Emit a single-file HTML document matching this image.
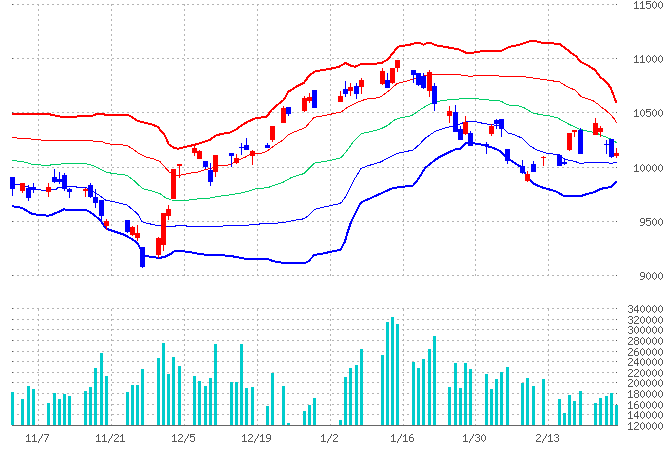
<!DOCTYPE html>
<html><head><meta charset="utf-8"><style>
html,body{margin:0;padding:0;background:#fff;width:670px;height:450px;overflow:hidden;font-family:"Liberation Sans",sans-serif}
svg{display:block;position:absolute;left:0;top:0}
</style></head><body>
<svg width="670" height="450" viewBox="0 0 670 450">
<rect x="0" y="0" width="670" height="450" fill="#ffffff"/>
<g shape-rendering="crispEdges">
<path d="M12 4h2v1h-2zM17 4h2v1h-2zM22 4h2v1h-2zM27 4h2v1h-2zM32 4h2v1h-2zM37 4h2v1h-2zM42 4h2v1h-2zM47 4h2v1h-2zM52 4h2v1h-2zM57 4h2v1h-2zM62 4h2v1h-2zM67 4h2v1h-2zM72 4h2v1h-2zM77 4h2v1h-2zM82 4h2v1h-2zM87 4h2v1h-2zM92 4h2v1h-2zM97 4h2v1h-2zM102 4h2v1h-2zM107 4h2v1h-2zM112 4h2v1h-2zM117 4h2v1h-2zM122 4h2v1h-2zM127 4h2v1h-2zM132 4h2v1h-2zM137 4h2v1h-2zM142 4h2v1h-2zM147 4h2v1h-2zM152 4h2v1h-2zM157 4h2v1h-2zM162 4h2v1h-2zM167 4h2v1h-2zM172 4h2v1h-2zM177 4h2v1h-2zM182 4h2v1h-2zM187 4h2v1h-2zM192 4h2v1h-2zM197 4h2v1h-2zM202 4h2v1h-2zM207 4h2v1h-2zM212 4h2v1h-2zM217 4h2v1h-2zM222 4h2v1h-2zM227 4h2v1h-2zM232 4h2v1h-2zM237 4h2v1h-2zM242 4h2v1h-2zM247 4h2v1h-2zM252 4h2v1h-2zM257 4h2v1h-2zM262 4h2v1h-2zM267 4h2v1h-2zM272 4h2v1h-2zM277 4h2v1h-2zM282 4h2v1h-2zM287 4h2v1h-2zM292 4h2v1h-2zM297 4h2v1h-2zM302 4h2v1h-2zM307 4h2v1h-2zM312 4h2v1h-2zM317 4h2v1h-2zM322 4h2v1h-2zM327 4h2v1h-2zM332 4h2v1h-2zM337 4h2v1h-2zM342 4h2v1h-2zM347 4h2v1h-2zM352 4h2v1h-2zM357 4h2v1h-2zM362 4h2v1h-2zM367 4h2v1h-2zM372 4h2v1h-2zM377 4h2v1h-2zM382 4h2v1h-2zM387 4h2v1h-2zM392 4h2v1h-2zM397 4h2v1h-2zM402 4h2v1h-2zM407 4h2v1h-2zM412 4h2v1h-2zM417 4h2v1h-2zM422 4h2v1h-2zM427 4h2v1h-2zM432 4h2v1h-2zM437 4h2v1h-2zM442 4h2v1h-2zM447 4h2v1h-2zM452 4h2v1h-2zM457 4h2v1h-2zM462 4h2v1h-2zM467 4h2v1h-2zM472 4h2v1h-2zM477 4h2v1h-2zM482 4h2v1h-2zM487 4h2v1h-2zM492 4h2v1h-2zM497 4h2v1h-2zM502 4h2v1h-2zM507 4h2v1h-2zM512 4h2v1h-2zM517 4h2v1h-2zM522 4h2v1h-2zM527 4h2v1h-2zM532 4h2v1h-2zM537 4h2v1h-2zM542 4h2v1h-2zM547 4h2v1h-2zM552 4h2v1h-2zM557 4h2v1h-2zM562 4h2v1h-2zM567 4h2v1h-2zM572 4h2v1h-2zM577 4h2v1h-2zM582 4h2v1h-2zM587 4h2v1h-2zM592 4h2v1h-2zM597 4h2v1h-2zM602 4h2v1h-2zM607 4h2v1h-2zM612 4h2v1h-2zM12 58h2v1h-2zM17 58h2v1h-2zM22 58h2v1h-2zM27 58h2v1h-2zM32 58h2v1h-2zM37 58h2v1h-2zM42 58h2v1h-2zM47 58h2v1h-2zM52 58h2v1h-2zM57 58h2v1h-2zM62 58h2v1h-2zM67 58h2v1h-2zM72 58h2v1h-2zM77 58h2v1h-2zM82 58h2v1h-2zM87 58h2v1h-2zM92 58h2v1h-2zM97 58h2v1h-2zM102 58h2v1h-2zM107 58h2v1h-2zM112 58h2v1h-2zM117 58h2v1h-2zM122 58h2v1h-2zM127 58h2v1h-2zM132 58h2v1h-2zM137 58h2v1h-2zM142 58h2v1h-2zM147 58h2v1h-2zM152 58h2v1h-2zM157 58h2v1h-2zM162 58h2v1h-2zM167 58h2v1h-2zM172 58h2v1h-2zM177 58h2v1h-2zM182 58h2v1h-2zM187 58h2v1h-2zM192 58h2v1h-2zM197 58h2v1h-2zM202 58h2v1h-2zM207 58h2v1h-2zM212 58h2v1h-2zM217 58h2v1h-2zM222 58h2v1h-2zM227 58h2v1h-2zM232 58h2v1h-2zM237 58h2v1h-2zM242 58h2v1h-2zM247 58h2v1h-2zM252 58h2v1h-2zM257 58h2v1h-2zM262 58h2v1h-2zM267 58h2v1h-2zM272 58h2v1h-2zM277 58h2v1h-2zM282 58h2v1h-2zM287 58h2v1h-2zM292 58h2v1h-2zM297 58h2v1h-2zM302 58h2v1h-2zM307 58h2v1h-2zM312 58h2v1h-2zM317 58h2v1h-2zM322 58h2v1h-2zM327 58h2v1h-2zM332 58h2v1h-2zM337 58h2v1h-2zM342 58h2v1h-2zM347 58h2v1h-2zM352 58h2v1h-2zM357 58h2v1h-2zM362 58h2v1h-2zM367 58h2v1h-2zM372 58h2v1h-2zM377 58h2v1h-2zM382 58h2v1h-2zM387 58h2v1h-2zM392 58h2v1h-2zM397 58h2v1h-2zM402 58h2v1h-2zM407 58h2v1h-2zM412 58h2v1h-2zM417 58h2v1h-2zM422 58h2v1h-2zM427 58h2v1h-2zM432 58h2v1h-2zM437 58h2v1h-2zM442 58h2v1h-2zM447 58h2v1h-2zM452 58h2v1h-2zM457 58h2v1h-2zM462 58h2v1h-2zM467 58h2v1h-2zM472 58h2v1h-2zM477 58h2v1h-2zM482 58h2v1h-2zM487 58h2v1h-2zM492 58h2v1h-2zM497 58h2v1h-2zM502 58h2v1h-2zM507 58h2v1h-2zM512 58h2v1h-2zM517 58h2v1h-2zM522 58h2v1h-2zM527 58h2v1h-2zM532 58h2v1h-2zM537 58h2v1h-2zM542 58h2v1h-2zM547 58h2v1h-2zM552 58h2v1h-2zM557 58h2v1h-2zM562 58h2v1h-2zM567 58h2v1h-2zM572 58h2v1h-2zM577 58h2v1h-2zM582 58h2v1h-2zM587 58h2v1h-2zM592 58h2v1h-2zM597 58h2v1h-2zM602 58h2v1h-2zM607 58h2v1h-2zM612 58h2v1h-2zM12 112h2v1h-2zM17 112h2v1h-2zM22 112h2v1h-2zM27 112h2v1h-2zM32 112h2v1h-2zM37 112h2v1h-2zM42 112h2v1h-2zM47 112h2v1h-2zM52 112h2v1h-2zM57 112h2v1h-2zM62 112h2v1h-2zM67 112h2v1h-2zM72 112h2v1h-2zM77 112h2v1h-2zM82 112h2v1h-2zM87 112h2v1h-2zM92 112h2v1h-2zM97 112h2v1h-2zM102 112h2v1h-2zM107 112h2v1h-2zM112 112h2v1h-2zM117 112h2v1h-2zM122 112h2v1h-2zM127 112h2v1h-2zM132 112h2v1h-2zM137 112h2v1h-2zM142 112h2v1h-2zM147 112h2v1h-2zM152 112h2v1h-2zM157 112h2v1h-2zM162 112h2v1h-2zM167 112h2v1h-2zM172 112h2v1h-2zM177 112h2v1h-2zM182 112h2v1h-2zM187 112h2v1h-2zM192 112h2v1h-2zM197 112h2v1h-2zM202 112h2v1h-2zM207 112h2v1h-2zM212 112h2v1h-2zM217 112h2v1h-2zM222 112h2v1h-2zM227 112h2v1h-2zM232 112h2v1h-2zM237 112h2v1h-2zM242 112h2v1h-2zM247 112h2v1h-2zM252 112h2v1h-2zM257 112h2v1h-2zM262 112h2v1h-2zM267 112h2v1h-2zM272 112h2v1h-2zM277 112h2v1h-2zM282 112h2v1h-2zM287 112h2v1h-2zM292 112h2v1h-2zM297 112h2v1h-2zM302 112h2v1h-2zM307 112h2v1h-2zM312 112h2v1h-2zM317 112h2v1h-2zM322 112h2v1h-2zM327 112h2v1h-2zM332 112h2v1h-2zM337 112h2v1h-2zM342 112h2v1h-2zM347 112h2v1h-2zM352 112h2v1h-2zM357 112h2v1h-2zM362 112h2v1h-2zM367 112h2v1h-2zM372 112h2v1h-2zM377 112h2v1h-2zM382 112h2v1h-2zM387 112h2v1h-2zM392 112h2v1h-2zM397 112h2v1h-2zM402 112h2v1h-2zM407 112h2v1h-2zM412 112h2v1h-2zM417 112h2v1h-2zM422 112h2v1h-2zM427 112h2v1h-2zM432 112h2v1h-2zM437 112h2v1h-2zM442 112h2v1h-2zM447 112h2v1h-2zM452 112h2v1h-2zM457 112h2v1h-2zM462 112h2v1h-2zM467 112h2v1h-2zM472 112h2v1h-2zM477 112h2v1h-2zM482 112h2v1h-2zM487 112h2v1h-2zM492 112h2v1h-2zM497 112h2v1h-2zM502 112h2v1h-2zM507 112h2v1h-2zM512 112h2v1h-2zM517 112h2v1h-2zM522 112h2v1h-2zM527 112h2v1h-2zM532 112h2v1h-2zM537 112h2v1h-2zM542 112h2v1h-2zM547 112h2v1h-2zM552 112h2v1h-2zM557 112h2v1h-2zM562 112h2v1h-2zM567 112h2v1h-2zM572 112h2v1h-2zM577 112h2v1h-2zM582 112h2v1h-2zM587 112h2v1h-2zM592 112h2v1h-2zM597 112h2v1h-2zM602 112h2v1h-2zM607 112h2v1h-2zM612 112h2v1h-2zM12 167h2v1h-2zM17 167h2v1h-2zM22 167h2v1h-2zM27 167h2v1h-2zM32 167h2v1h-2zM37 167h2v1h-2zM42 167h2v1h-2zM47 167h2v1h-2zM52 167h2v1h-2zM57 167h2v1h-2zM62 167h2v1h-2zM67 167h2v1h-2zM72 167h2v1h-2zM77 167h2v1h-2zM82 167h2v1h-2zM87 167h2v1h-2zM92 167h2v1h-2zM97 167h2v1h-2zM102 167h2v1h-2zM107 167h2v1h-2zM112 167h2v1h-2zM117 167h2v1h-2zM122 167h2v1h-2zM127 167h2v1h-2zM132 167h2v1h-2zM137 167h2v1h-2zM142 167h2v1h-2zM147 167h2v1h-2zM152 167h2v1h-2zM157 167h2v1h-2zM162 167h2v1h-2zM167 167h2v1h-2zM172 167h2v1h-2zM177 167h2v1h-2zM182 167h2v1h-2zM187 167h2v1h-2zM192 167h2v1h-2zM197 167h2v1h-2zM202 167h2v1h-2zM207 167h2v1h-2zM212 167h2v1h-2zM217 167h2v1h-2zM222 167h2v1h-2zM227 167h2v1h-2zM232 167h2v1h-2zM237 167h2v1h-2zM242 167h2v1h-2zM247 167h2v1h-2zM252 167h2v1h-2zM257 167h2v1h-2zM262 167h2v1h-2zM267 167h2v1h-2zM272 167h2v1h-2zM277 167h2v1h-2zM282 167h2v1h-2zM287 167h2v1h-2zM292 167h2v1h-2zM297 167h2v1h-2zM302 167h2v1h-2zM307 167h2v1h-2zM312 167h2v1h-2zM317 167h2v1h-2zM322 167h2v1h-2zM327 167h2v1h-2zM332 167h2v1h-2zM337 167h2v1h-2zM342 167h2v1h-2zM347 167h2v1h-2zM352 167h2v1h-2zM357 167h2v1h-2zM362 167h2v1h-2zM367 167h2v1h-2zM372 167h2v1h-2zM377 167h2v1h-2zM382 167h2v1h-2zM387 167h2v1h-2zM392 167h2v1h-2zM397 167h2v1h-2zM402 167h2v1h-2zM407 167h2v1h-2zM412 167h2v1h-2zM417 167h2v1h-2zM422 167h2v1h-2zM427 167h2v1h-2zM432 167h2v1h-2zM437 167h2v1h-2zM442 167h2v1h-2zM447 167h2v1h-2zM452 167h2v1h-2zM457 167h2v1h-2zM462 167h2v1h-2zM467 167h2v1h-2zM472 167h2v1h-2zM477 167h2v1h-2zM482 167h2v1h-2zM487 167h2v1h-2zM492 167h2v1h-2zM497 167h2v1h-2zM502 167h2v1h-2zM507 167h2v1h-2zM512 167h2v1h-2zM517 167h2v1h-2zM522 167h2v1h-2zM527 167h2v1h-2zM532 167h2v1h-2zM537 167h2v1h-2zM542 167h2v1h-2zM547 167h2v1h-2zM552 167h2v1h-2zM557 167h2v1h-2zM562 167h2v1h-2zM567 167h2v1h-2zM572 167h2v1h-2zM577 167h2v1h-2zM582 167h2v1h-2zM587 167h2v1h-2zM592 167h2v1h-2zM597 167h2v1h-2zM602 167h2v1h-2zM607 167h2v1h-2zM612 167h2v1h-2zM12 221h2v1h-2zM17 221h2v1h-2zM22 221h2v1h-2zM27 221h2v1h-2zM32 221h2v1h-2zM37 221h2v1h-2zM42 221h2v1h-2zM47 221h2v1h-2zM52 221h2v1h-2zM57 221h2v1h-2zM62 221h2v1h-2zM67 221h2v1h-2zM72 221h2v1h-2zM77 221h2v1h-2zM82 221h2v1h-2zM87 221h2v1h-2zM92 221h2v1h-2zM97 221h2v1h-2zM102 221h2v1h-2zM107 221h2v1h-2zM112 221h2v1h-2zM117 221h2v1h-2zM122 221h2v1h-2zM127 221h2v1h-2zM132 221h2v1h-2zM137 221h2v1h-2zM142 221h2v1h-2zM147 221h2v1h-2zM152 221h2v1h-2zM157 221h2v1h-2zM162 221h2v1h-2zM167 221h2v1h-2zM172 221h2v1h-2zM177 221h2v1h-2zM182 221h2v1h-2zM187 221h2v1h-2zM192 221h2v1h-2zM197 221h2v1h-2zM202 221h2v1h-2zM207 221h2v1h-2zM212 221h2v1h-2zM217 221h2v1h-2zM222 221h2v1h-2zM227 221h2v1h-2zM232 221h2v1h-2zM237 221h2v1h-2zM242 221h2v1h-2zM247 221h2v1h-2zM252 221h2v1h-2zM257 221h2v1h-2zM262 221h2v1h-2zM267 221h2v1h-2zM272 221h2v1h-2zM277 221h2v1h-2zM282 221h2v1h-2zM287 221h2v1h-2zM292 221h2v1h-2zM297 221h2v1h-2zM302 221h2v1h-2zM307 221h2v1h-2zM312 221h2v1h-2zM317 221h2v1h-2zM322 221h2v1h-2zM327 221h2v1h-2zM332 221h2v1h-2zM337 221h2v1h-2zM342 221h2v1h-2zM347 221h2v1h-2zM352 221h2v1h-2zM357 221h2v1h-2zM362 221h2v1h-2zM367 221h2v1h-2zM372 221h2v1h-2zM377 221h2v1h-2zM382 221h2v1h-2zM387 221h2v1h-2zM392 221h2v1h-2zM397 221h2v1h-2zM402 221h2v1h-2zM407 221h2v1h-2zM412 221h2v1h-2zM417 221h2v1h-2zM422 221h2v1h-2zM427 221h2v1h-2zM432 221h2v1h-2zM437 221h2v1h-2zM442 221h2v1h-2zM447 221h2v1h-2zM452 221h2v1h-2zM457 221h2v1h-2zM462 221h2v1h-2zM467 221h2v1h-2zM472 221h2v1h-2zM477 221h2v1h-2zM482 221h2v1h-2zM487 221h2v1h-2zM492 221h2v1h-2zM497 221h2v1h-2zM502 221h2v1h-2zM507 221h2v1h-2zM512 221h2v1h-2zM517 221h2v1h-2zM522 221h2v1h-2zM527 221h2v1h-2zM532 221h2v1h-2zM537 221h2v1h-2zM542 221h2v1h-2zM547 221h2v1h-2zM552 221h2v1h-2zM557 221h2v1h-2zM562 221h2v1h-2zM567 221h2v1h-2zM572 221h2v1h-2zM577 221h2v1h-2zM582 221h2v1h-2zM587 221h2v1h-2zM592 221h2v1h-2zM597 221h2v1h-2zM602 221h2v1h-2zM607 221h2v1h-2zM612 221h2v1h-2zM12 275h2v1h-2zM17 275h2v1h-2zM22 275h2v1h-2zM27 275h2v1h-2zM32 275h2v1h-2zM37 275h2v1h-2zM42 275h2v1h-2zM47 275h2v1h-2zM52 275h2v1h-2zM57 275h2v1h-2zM62 275h2v1h-2zM67 275h2v1h-2zM72 275h2v1h-2zM77 275h2v1h-2zM82 275h2v1h-2zM87 275h2v1h-2zM92 275h2v1h-2zM97 275h2v1h-2zM102 275h2v1h-2zM107 275h2v1h-2zM112 275h2v1h-2zM117 275h2v1h-2zM122 275h2v1h-2zM127 275h2v1h-2zM132 275h2v1h-2zM137 275h2v1h-2zM142 275h2v1h-2zM147 275h2v1h-2zM152 275h2v1h-2zM157 275h2v1h-2zM162 275h2v1h-2zM167 275h2v1h-2zM172 275h2v1h-2zM177 275h2v1h-2zM182 275h2v1h-2zM187 275h2v1h-2zM192 275h2v1h-2zM197 275h2v1h-2zM202 275h2v1h-2zM207 275h2v1h-2zM212 275h2v1h-2zM217 275h2v1h-2zM222 275h2v1h-2zM227 275h2v1h-2zM232 275h2v1h-2zM237 275h2v1h-2zM242 275h2v1h-2zM247 275h2v1h-2zM252 275h2v1h-2zM257 275h2v1h-2zM262 275h2v1h-2zM267 275h2v1h-2zM272 275h2v1h-2zM277 275h2v1h-2zM282 275h2v1h-2zM287 275h2v1h-2zM292 275h2v1h-2zM297 275h2v1h-2zM302 275h2v1h-2zM307 275h2v1h-2zM312 275h2v1h-2zM317 275h2v1h-2zM322 275h2v1h-2zM327 275h2v1h-2zM332 275h2v1h-2zM337 275h2v1h-2zM342 275h2v1h-2zM347 275h2v1h-2zM352 275h2v1h-2zM357 275h2v1h-2zM362 275h2v1h-2zM367 275h2v1h-2zM372 275h2v1h-2zM377 275h2v1h-2zM382 275h2v1h-2zM387 275h2v1h-2zM392 275h2v1h-2zM397 275h2v1h-2zM402 275h2v1h-2zM407 275h2v1h-2zM412 275h2v1h-2zM417 275h2v1h-2zM422 275h2v1h-2zM427 275h2v1h-2zM432 275h2v1h-2zM437 275h2v1h-2zM442 275h2v1h-2zM447 275h2v1h-2zM452 275h2v1h-2zM457 275h2v1h-2zM462 275h2v1h-2zM467 275h2v1h-2zM472 275h2v1h-2zM477 275h2v1h-2zM482 275h2v1h-2zM487 275h2v1h-2zM492 275h2v1h-2zM497 275h2v1h-2zM502 275h2v1h-2zM507 275h2v1h-2zM512 275h2v1h-2zM517 275h2v1h-2zM522 275h2v1h-2zM527 275h2v1h-2zM532 275h2v1h-2zM537 275h2v1h-2zM542 275h2v1h-2zM547 275h2v1h-2zM552 275h2v1h-2zM557 275h2v1h-2zM562 275h2v1h-2zM567 275h2v1h-2zM572 275h2v1h-2zM577 275h2v1h-2zM582 275h2v1h-2zM587 275h2v1h-2zM592 275h2v1h-2zM597 275h2v1h-2zM602 275h2v1h-2zM607 275h2v1h-2zM612 275h2v1h-2zM12 308h2v1h-2zM17 308h2v1h-2zM22 308h2v1h-2zM27 308h2v1h-2zM32 308h2v1h-2zM37 308h2v1h-2zM42 308h2v1h-2zM47 308h2v1h-2zM52 308h2v1h-2zM57 308h2v1h-2zM62 308h2v1h-2zM67 308h2v1h-2zM72 308h2v1h-2zM77 308h2v1h-2zM82 308h2v1h-2zM87 308h2v1h-2zM92 308h2v1h-2zM97 308h2v1h-2zM102 308h2v1h-2zM107 308h2v1h-2zM112 308h2v1h-2zM117 308h2v1h-2zM122 308h2v1h-2zM127 308h2v1h-2zM132 308h2v1h-2zM137 308h2v1h-2zM142 308h2v1h-2zM147 308h2v1h-2zM152 308h2v1h-2zM157 308h2v1h-2zM162 308h2v1h-2zM167 308h2v1h-2zM172 308h2v1h-2zM177 308h2v1h-2zM182 308h2v1h-2zM187 308h2v1h-2zM192 308h2v1h-2zM197 308h2v1h-2zM202 308h2v1h-2zM207 308h2v1h-2zM212 308h2v1h-2zM217 308h2v1h-2zM222 308h2v1h-2zM227 308h2v1h-2zM232 308h2v1h-2zM237 308h2v1h-2zM242 308h2v1h-2zM247 308h2v1h-2zM252 308h2v1h-2zM257 308h2v1h-2zM262 308h2v1h-2zM267 308h2v1h-2zM272 308h2v1h-2zM277 308h2v1h-2zM282 308h2v1h-2zM287 308h2v1h-2zM292 308h2v1h-2zM297 308h2v1h-2zM302 308h2v1h-2zM307 308h2v1h-2zM312 308h2v1h-2zM317 308h2v1h-2zM322 308h2v1h-2zM327 308h2v1h-2zM332 308h2v1h-2zM337 308h2v1h-2zM342 308h2v1h-2zM347 308h2v1h-2zM352 308h2v1h-2zM357 308h2v1h-2zM362 308h2v1h-2zM367 308h2v1h-2zM372 308h2v1h-2zM377 308h2v1h-2zM382 308h2v1h-2zM387 308h2v1h-2zM392 308h2v1h-2zM397 308h2v1h-2zM402 308h2v1h-2zM407 308h2v1h-2zM412 308h2v1h-2zM417 308h2v1h-2zM422 308h2v1h-2zM427 308h2v1h-2zM432 308h2v1h-2zM437 308h2v1h-2zM442 308h2v1h-2zM447 308h2v1h-2zM452 308h2v1h-2zM457 308h2v1h-2zM462 308h2v1h-2zM467 308h2v1h-2zM472 308h2v1h-2zM477 308h2v1h-2zM482 308h2v1h-2zM487 308h2v1h-2zM492 308h2v1h-2zM497 308h2v1h-2zM502 308h2v1h-2zM507 308h2v1h-2zM512 308h2v1h-2zM517 308h2v1h-2zM522 308h2v1h-2zM527 308h2v1h-2zM532 308h2v1h-2zM537 308h2v1h-2zM542 308h2v1h-2zM547 308h2v1h-2zM552 308h2v1h-2zM557 308h2v1h-2zM562 308h2v1h-2zM567 308h2v1h-2zM572 308h2v1h-2zM577 308h2v1h-2zM582 308h2v1h-2zM587 308h2v1h-2zM592 308h2v1h-2zM597 308h2v1h-2zM602 308h2v1h-2zM607 308h2v1h-2zM612 308h2v1h-2zM12 319h2v1h-2zM17 319h2v1h-2zM22 319h2v1h-2zM27 319h2v1h-2zM32 319h2v1h-2zM37 319h2v1h-2zM42 319h2v1h-2zM47 319h2v1h-2zM52 319h2v1h-2zM57 319h2v1h-2zM62 319h2v1h-2zM67 319h2v1h-2zM72 319h2v1h-2zM77 319h2v1h-2zM82 319h2v1h-2zM87 319h2v1h-2zM92 319h2v1h-2zM97 319h2v1h-2zM102 319h2v1h-2zM107 319h2v1h-2zM112 319h2v1h-2zM117 319h2v1h-2zM122 319h2v1h-2zM127 319h2v1h-2zM132 319h2v1h-2zM137 319h2v1h-2zM142 319h2v1h-2zM147 319h2v1h-2zM152 319h2v1h-2zM157 319h2v1h-2zM162 319h2v1h-2zM167 319h2v1h-2zM172 319h2v1h-2zM177 319h2v1h-2zM182 319h2v1h-2zM187 319h2v1h-2zM192 319h2v1h-2zM197 319h2v1h-2zM202 319h2v1h-2zM207 319h2v1h-2zM212 319h2v1h-2zM217 319h2v1h-2zM222 319h2v1h-2zM227 319h2v1h-2zM232 319h2v1h-2zM237 319h2v1h-2zM242 319h2v1h-2zM247 319h2v1h-2zM252 319h2v1h-2zM257 319h2v1h-2zM262 319h2v1h-2zM267 319h2v1h-2zM272 319h2v1h-2zM277 319h2v1h-2zM282 319h2v1h-2zM287 319h2v1h-2zM292 319h2v1h-2zM297 319h2v1h-2zM302 319h2v1h-2zM307 319h2v1h-2zM312 319h2v1h-2zM317 319h2v1h-2zM322 319h2v1h-2zM327 319h2v1h-2zM332 319h2v1h-2zM337 319h2v1h-2zM342 319h2v1h-2zM347 319h2v1h-2zM352 319h2v1h-2zM357 319h2v1h-2zM362 319h2v1h-2zM367 319h2v1h-2zM372 319h2v1h-2zM377 319h2v1h-2zM382 319h2v1h-2zM387 319h2v1h-2zM392 319h2v1h-2zM397 319h2v1h-2zM402 319h2v1h-2zM407 319h2v1h-2zM412 319h2v1h-2zM417 319h2v1h-2zM422 319h2v1h-2zM427 319h2v1h-2zM432 319h2v1h-2zM437 319h2v1h-2zM442 319h2v1h-2zM447 319h2v1h-2zM452 319h2v1h-2zM457 319h2v1h-2zM462 319h2v1h-2zM467 319h2v1h-2zM472 319h2v1h-2zM477 319h2v1h-2zM482 319h2v1h-2zM487 319h2v1h-2zM492 319h2v1h-2zM497 319h2v1h-2zM502 319h2v1h-2zM507 319h2v1h-2zM512 319h2v1h-2zM517 319h2v1h-2zM522 319h2v1h-2zM527 319h2v1h-2zM532 319h2v1h-2zM537 319h2v1h-2zM542 319h2v1h-2zM547 319h2v1h-2zM552 319h2v1h-2zM557 319h2v1h-2zM562 319h2v1h-2zM567 319h2v1h-2zM572 319h2v1h-2zM577 319h2v1h-2zM582 319h2v1h-2zM587 319h2v1h-2zM592 319h2v1h-2zM597 319h2v1h-2zM602 319h2v1h-2zM607 319h2v1h-2zM612 319h2v1h-2zM12 329h2v1h-2zM17 329h2v1h-2zM22 329h2v1h-2zM27 329h2v1h-2zM32 329h2v1h-2zM37 329h2v1h-2zM42 329h2v1h-2zM47 329h2v1h-2zM52 329h2v1h-2zM57 329h2v1h-2zM62 329h2v1h-2zM67 329h2v1h-2zM72 329h2v1h-2zM77 329h2v1h-2zM82 329h2v1h-2zM87 329h2v1h-2zM92 329h2v1h-2zM97 329h2v1h-2zM102 329h2v1h-2zM107 329h2v1h-2zM112 329h2v1h-2zM117 329h2v1h-2zM122 329h2v1h-2zM127 329h2v1h-2zM132 329h2v1h-2zM137 329h2v1h-2zM142 329h2v1h-2zM147 329h2v1h-2zM152 329h2v1h-2zM157 329h2v1h-2zM162 329h2v1h-2zM167 329h2v1h-2zM172 329h2v1h-2zM177 329h2v1h-2zM182 329h2v1h-2zM187 329h2v1h-2zM192 329h2v1h-2zM197 329h2v1h-2zM202 329h2v1h-2zM207 329h2v1h-2zM212 329h2v1h-2zM217 329h2v1h-2zM222 329h2v1h-2zM227 329h2v1h-2zM232 329h2v1h-2zM237 329h2v1h-2zM242 329h2v1h-2zM247 329h2v1h-2zM252 329h2v1h-2zM257 329h2v1h-2zM262 329h2v1h-2zM267 329h2v1h-2zM272 329h2v1h-2zM277 329h2v1h-2zM282 329h2v1h-2zM287 329h2v1h-2zM292 329h2v1h-2zM297 329h2v1h-2zM302 329h2v1h-2zM307 329h2v1h-2zM312 329h2v1h-2zM317 329h2v1h-2zM322 329h2v1h-2zM327 329h2v1h-2zM332 329h2v1h-2zM337 329h2v1h-2zM342 329h2v1h-2zM347 329h2v1h-2zM352 329h2v1h-2zM357 329h2v1h-2zM362 329h2v1h-2zM367 329h2v1h-2zM372 329h2v1h-2zM377 329h2v1h-2zM382 329h2v1h-2zM387 329h2v1h-2zM392 329h2v1h-2zM397 329h2v1h-2zM402 329h2v1h-2zM407 329h2v1h-2zM412 329h2v1h-2zM417 329h2v1h-2zM422 329h2v1h-2zM427 329h2v1h-2zM432 329h2v1h-2zM437 329h2v1h-2zM442 329h2v1h-2zM447 329h2v1h-2zM452 329h2v1h-2zM457 329h2v1h-2zM462 329h2v1h-2zM467 329h2v1h-2zM472 329h2v1h-2zM477 329h2v1h-2zM482 329h2v1h-2zM487 329h2v1h-2zM492 329h2v1h-2zM497 329h2v1h-2zM502 329h2v1h-2zM507 329h2v1h-2zM512 329h2v1h-2zM517 329h2v1h-2zM522 329h2v1h-2zM527 329h2v1h-2zM532 329h2v1h-2zM537 329h2v1h-2zM542 329h2v1h-2zM547 329h2v1h-2zM552 329h2v1h-2zM557 329h2v1h-2zM562 329h2v1h-2zM567 329h2v1h-2zM572 329h2v1h-2zM577 329h2v1h-2zM582 329h2v1h-2zM587 329h2v1h-2zM592 329h2v1h-2zM597 329h2v1h-2zM602 329h2v1h-2zM607 329h2v1h-2zM612 329h2v1h-2zM12 340h2v1h-2zM17 340h2v1h-2zM22 340h2v1h-2zM27 340h2v1h-2zM32 340h2v1h-2zM37 340h2v1h-2zM42 340h2v1h-2zM47 340h2v1h-2zM52 340h2v1h-2zM57 340h2v1h-2zM62 340h2v1h-2zM67 340h2v1h-2zM72 340h2v1h-2zM77 340h2v1h-2zM82 340h2v1h-2zM87 340h2v1h-2zM92 340h2v1h-2zM97 340h2v1h-2zM102 340h2v1h-2zM107 340h2v1h-2zM112 340h2v1h-2zM117 340h2v1h-2zM122 340h2v1h-2zM127 340h2v1h-2zM132 340h2v1h-2zM137 340h2v1h-2zM142 340h2v1h-2zM147 340h2v1h-2zM152 340h2v1h-2zM157 340h2v1h-2zM162 340h2v1h-2zM167 340h2v1h-2zM172 340h2v1h-2zM177 340h2v1h-2zM182 340h2v1h-2zM187 340h2v1h-2zM192 340h2v1h-2zM197 340h2v1h-2zM202 340h2v1h-2zM207 340h2v1h-2zM212 340h2v1h-2zM217 340h2v1h-2zM222 340h2v1h-2zM227 340h2v1h-2zM232 340h2v1h-2zM237 340h2v1h-2zM242 340h2v1h-2zM247 340h2v1h-2zM252 340h2v1h-2zM257 340h2v1h-2zM262 340h2v1h-2zM267 340h2v1h-2zM272 340h2v1h-2zM277 340h2v1h-2zM282 340h2v1h-2zM287 340h2v1h-2zM292 340h2v1h-2zM297 340h2v1h-2zM302 340h2v1h-2zM307 340h2v1h-2zM312 340h2v1h-2zM317 340h2v1h-2zM322 340h2v1h-2zM327 340h2v1h-2zM332 340h2v1h-2zM337 340h2v1h-2zM342 340h2v1h-2zM347 340h2v1h-2zM352 340h2v1h-2zM357 340h2v1h-2zM362 340h2v1h-2zM367 340h2v1h-2zM372 340h2v1h-2zM377 340h2v1h-2zM382 340h2v1h-2zM387 340h2v1h-2zM392 340h2v1h-2zM397 340h2v1h-2zM402 340h2v1h-2zM407 340h2v1h-2zM412 340h2v1h-2zM417 340h2v1h-2zM422 340h2v1h-2zM427 340h2v1h-2zM432 340h2v1h-2zM437 340h2v1h-2zM442 340h2v1h-2zM447 340h2v1h-2zM452 340h2v1h-2zM457 340h2v1h-2zM462 340h2v1h-2zM467 340h2v1h-2zM472 340h2v1h-2zM477 340h2v1h-2zM482 340h2v1h-2zM487 340h2v1h-2zM492 340h2v1h-2zM497 340h2v1h-2zM502 340h2v1h-2zM507 340h2v1h-2zM512 340h2v1h-2zM517 340h2v1h-2zM522 340h2v1h-2zM527 340h2v1h-2zM532 340h2v1h-2zM537 340h2v1h-2zM542 340h2v1h-2zM547 340h2v1h-2zM552 340h2v1h-2zM557 340h2v1h-2zM562 340h2v1h-2zM567 340h2v1h-2zM572 340h2v1h-2zM577 340h2v1h-2zM582 340h2v1h-2zM587 340h2v1h-2zM592 340h2v1h-2zM597 340h2v1h-2zM602 340h2v1h-2zM607 340h2v1h-2zM612 340h2v1h-2zM12 351h2v1h-2zM17 351h2v1h-2zM22 351h2v1h-2zM27 351h2v1h-2zM32 351h2v1h-2zM37 351h2v1h-2zM42 351h2v1h-2zM47 351h2v1h-2zM52 351h2v1h-2zM57 351h2v1h-2zM62 351h2v1h-2zM67 351h2v1h-2zM72 351h2v1h-2zM77 351h2v1h-2zM82 351h2v1h-2zM87 351h2v1h-2zM92 351h2v1h-2zM97 351h2v1h-2zM102 351h2v1h-2zM107 351h2v1h-2zM112 351h2v1h-2zM117 351h2v1h-2zM122 351h2v1h-2zM127 351h2v1h-2zM132 351h2v1h-2zM137 351h2v1h-2zM142 351h2v1h-2zM147 351h2v1h-2zM152 351h2v1h-2zM157 351h2v1h-2zM162 351h2v1h-2zM167 351h2v1h-2zM172 351h2v1h-2zM177 351h2v1h-2zM182 351h2v1h-2zM187 351h2v1h-2zM192 351h2v1h-2zM197 351h2v1h-2zM202 351h2v1h-2zM207 351h2v1h-2zM212 351h2v1h-2zM217 351h2v1h-2zM222 351h2v1h-2zM227 351h2v1h-2zM232 351h2v1h-2zM237 351h2v1h-2zM242 351h2v1h-2zM247 351h2v1h-2zM252 351h2v1h-2zM257 351h2v1h-2zM262 351h2v1h-2zM267 351h2v1h-2zM272 351h2v1h-2zM277 351h2v1h-2zM282 351h2v1h-2zM287 351h2v1h-2zM292 351h2v1h-2zM297 351h2v1h-2zM302 351h2v1h-2zM307 351h2v1h-2zM312 351h2v1h-2zM317 351h2v1h-2zM322 351h2v1h-2zM327 351h2v1h-2zM332 351h2v1h-2zM337 351h2v1h-2zM342 351h2v1h-2zM347 351h2v1h-2zM352 351h2v1h-2zM357 351h2v1h-2zM362 351h2v1h-2zM367 351h2v1h-2zM372 351h2v1h-2zM377 351h2v1h-2zM382 351h2v1h-2zM387 351h2v1h-2zM392 351h2v1h-2zM397 351h2v1h-2zM402 351h2v1h-2zM407 351h2v1h-2zM412 351h2v1h-2zM417 351h2v1h-2zM422 351h2v1h-2zM427 351h2v1h-2zM432 351h2v1h-2zM437 351h2v1h-2zM442 351h2v1h-2zM447 351h2v1h-2zM452 351h2v1h-2zM457 351h2v1h-2zM462 351h2v1h-2zM467 351h2v1h-2zM472 351h2v1h-2zM477 351h2v1h-2zM482 351h2v1h-2zM487 351h2v1h-2zM492 351h2v1h-2zM497 351h2v1h-2zM502 351h2v1h-2zM507 351h2v1h-2zM512 351h2v1h-2zM517 351h2v1h-2zM522 351h2v1h-2zM527 351h2v1h-2zM532 351h2v1h-2zM537 351h2v1h-2zM542 351h2v1h-2zM547 351h2v1h-2zM552 351h2v1h-2zM557 351h2v1h-2zM562 351h2v1h-2zM567 351h2v1h-2zM572 351h2v1h-2zM577 351h2v1h-2zM582 351h2v1h-2zM587 351h2v1h-2zM592 351h2v1h-2zM597 351h2v1h-2zM602 351h2v1h-2zM607 351h2v1h-2zM612 351h2v1h-2zM12 361h2v1h-2zM17 361h2v1h-2zM22 361h2v1h-2zM27 361h2v1h-2zM32 361h2v1h-2zM37 361h2v1h-2zM42 361h2v1h-2zM47 361h2v1h-2zM52 361h2v1h-2zM57 361h2v1h-2zM62 361h2v1h-2zM67 361h2v1h-2zM72 361h2v1h-2zM77 361h2v1h-2zM82 361h2v1h-2zM87 361h2v1h-2zM92 361h2v1h-2zM97 361h2v1h-2zM102 361h2v1h-2zM107 361h2v1h-2zM112 361h2v1h-2zM117 361h2v1h-2zM122 361h2v1h-2zM127 361h2v1h-2zM132 361h2v1h-2zM137 361h2v1h-2zM142 361h2v1h-2zM147 361h2v1h-2zM152 361h2v1h-2zM157 361h2v1h-2zM162 361h2v1h-2zM167 361h2v1h-2zM172 361h2v1h-2zM177 361h2v1h-2zM182 361h2v1h-2zM187 361h2v1h-2zM192 361h2v1h-2zM197 361h2v1h-2zM202 361h2v1h-2zM207 361h2v1h-2zM212 361h2v1h-2zM217 361h2v1h-2zM222 361h2v1h-2zM227 361h2v1h-2zM232 361h2v1h-2zM237 361h2v1h-2zM242 361h2v1h-2zM247 361h2v1h-2zM252 361h2v1h-2zM257 361h2v1h-2zM262 361h2v1h-2zM267 361h2v1h-2zM272 361h2v1h-2zM277 361h2v1h-2zM282 361h2v1h-2zM287 361h2v1h-2zM292 361h2v1h-2zM297 361h2v1h-2zM302 361h2v1h-2zM307 361h2v1h-2zM312 361h2v1h-2zM317 361h2v1h-2zM322 361h2v1h-2zM327 361h2v1h-2zM332 361h2v1h-2zM337 361h2v1h-2zM342 361h2v1h-2zM347 361h2v1h-2zM352 361h2v1h-2zM357 361h2v1h-2zM362 361h2v1h-2zM367 361h2v1h-2zM372 361h2v1h-2zM377 361h2v1h-2zM382 361h2v1h-2zM387 361h2v1h-2zM392 361h2v1h-2zM397 361h2v1h-2zM402 361h2v1h-2zM407 361h2v1h-2zM412 361h2v1h-2zM417 361h2v1h-2zM422 361h2v1h-2zM427 361h2v1h-2zM432 361h2v1h-2zM437 361h2v1h-2zM442 361h2v1h-2zM447 361h2v1h-2zM452 361h2v1h-2zM457 361h2v1h-2zM462 361h2v1h-2zM467 361h2v1h-2zM472 361h2v1h-2zM477 361h2v1h-2zM482 361h2v1h-2zM487 361h2v1h-2zM492 361h2v1h-2zM497 361h2v1h-2zM502 361h2v1h-2zM507 361h2v1h-2zM512 361h2v1h-2zM517 361h2v1h-2zM522 361h2v1h-2zM527 361h2v1h-2zM532 361h2v1h-2zM537 361h2v1h-2zM542 361h2v1h-2zM547 361h2v1h-2zM552 361h2v1h-2zM557 361h2v1h-2zM562 361h2v1h-2zM567 361h2v1h-2zM572 361h2v1h-2zM577 361h2v1h-2zM582 361h2v1h-2zM587 361h2v1h-2zM592 361h2v1h-2zM597 361h2v1h-2zM602 361h2v1h-2zM607 361h2v1h-2zM612 361h2v1h-2zM12 372h2v1h-2zM17 372h2v1h-2zM22 372h2v1h-2zM27 372h2v1h-2zM32 372h2v1h-2zM37 372h2v1h-2zM42 372h2v1h-2zM47 372h2v1h-2zM52 372h2v1h-2zM57 372h2v1h-2zM62 372h2v1h-2zM67 372h2v1h-2zM72 372h2v1h-2zM77 372h2v1h-2zM82 372h2v1h-2zM87 372h2v1h-2zM92 372h2v1h-2zM97 372h2v1h-2zM102 372h2v1h-2zM107 372h2v1h-2zM112 372h2v1h-2zM117 372h2v1h-2zM122 372h2v1h-2zM127 372h2v1h-2zM132 372h2v1h-2zM137 372h2v1h-2zM142 372h2v1h-2zM147 372h2v1h-2zM152 372h2v1h-2zM157 372h2v1h-2zM162 372h2v1h-2zM167 372h2v1h-2zM172 372h2v1h-2zM177 372h2v1h-2zM182 372h2v1h-2zM187 372h2v1h-2zM192 372h2v1h-2zM197 372h2v1h-2zM202 372h2v1h-2zM207 372h2v1h-2zM212 372h2v1h-2zM217 372h2v1h-2zM222 372h2v1h-2zM227 372h2v1h-2zM232 372h2v1h-2zM237 372h2v1h-2zM242 372h2v1h-2zM247 372h2v1h-2zM252 372h2v1h-2zM257 372h2v1h-2zM262 372h2v1h-2zM267 372h2v1h-2zM272 372h2v1h-2zM277 372h2v1h-2zM282 372h2v1h-2zM287 372h2v1h-2zM292 372h2v1h-2zM297 372h2v1h-2zM302 372h2v1h-2zM307 372h2v1h-2zM312 372h2v1h-2zM317 372h2v1h-2zM322 372h2v1h-2zM327 372h2v1h-2zM332 372h2v1h-2zM337 372h2v1h-2zM342 372h2v1h-2zM347 372h2v1h-2zM352 372h2v1h-2zM357 372h2v1h-2zM362 372h2v1h-2zM367 372h2v1h-2zM372 372h2v1h-2zM377 372h2v1h-2zM382 372h2v1h-2zM387 372h2v1h-2zM392 372h2v1h-2zM397 372h2v1h-2zM402 372h2v1h-2zM407 372h2v1h-2zM412 372h2v1h-2zM417 372h2v1h-2zM422 372h2v1h-2zM427 372h2v1h-2zM432 372h2v1h-2zM437 372h2v1h-2zM442 372h2v1h-2zM447 372h2v1h-2zM452 372h2v1h-2zM457 372h2v1h-2zM462 372h2v1h-2zM467 372h2v1h-2zM472 372h2v1h-2zM477 372h2v1h-2zM482 372h2v1h-2zM487 372h2v1h-2zM492 372h2v1h-2zM497 372h2v1h-2zM502 372h2v1h-2zM507 372h2v1h-2zM512 372h2v1h-2zM517 372h2v1h-2zM522 372h2v1h-2zM527 372h2v1h-2zM532 372h2v1h-2zM537 372h2v1h-2zM542 372h2v1h-2zM547 372h2v1h-2zM552 372h2v1h-2zM557 372h2v1h-2zM562 372h2v1h-2zM567 372h2v1h-2zM572 372h2v1h-2zM577 372h2v1h-2zM582 372h2v1h-2zM587 372h2v1h-2zM592 372h2v1h-2zM597 372h2v1h-2zM602 372h2v1h-2zM607 372h2v1h-2zM612 372h2v1h-2zM12 382h2v1h-2zM17 382h2v1h-2zM22 382h2v1h-2zM27 382h2v1h-2zM32 382h2v1h-2zM37 382h2v1h-2zM42 382h2v1h-2zM47 382h2v1h-2zM52 382h2v1h-2zM57 382h2v1h-2zM62 382h2v1h-2zM67 382h2v1h-2zM72 382h2v1h-2zM77 382h2v1h-2zM82 382h2v1h-2zM87 382h2v1h-2zM92 382h2v1h-2zM97 382h2v1h-2zM102 382h2v1h-2zM107 382h2v1h-2zM112 382h2v1h-2zM117 382h2v1h-2zM122 382h2v1h-2zM127 382h2v1h-2zM132 382h2v1h-2zM137 382h2v1h-2zM142 382h2v1h-2zM147 382h2v1h-2zM152 382h2v1h-2zM157 382h2v1h-2zM162 382h2v1h-2zM167 382h2v1h-2zM172 382h2v1h-2zM177 382h2v1h-2zM182 382h2v1h-2zM187 382h2v1h-2zM192 382h2v1h-2zM197 382h2v1h-2zM202 382h2v1h-2zM207 382h2v1h-2zM212 382h2v1h-2zM217 382h2v1h-2zM222 382h2v1h-2zM227 382h2v1h-2zM232 382h2v1h-2zM237 382h2v1h-2zM242 382h2v1h-2zM247 382h2v1h-2zM252 382h2v1h-2zM257 382h2v1h-2zM262 382h2v1h-2zM267 382h2v1h-2zM272 382h2v1h-2zM277 382h2v1h-2zM282 382h2v1h-2zM287 382h2v1h-2zM292 382h2v1h-2zM297 382h2v1h-2zM302 382h2v1h-2zM307 382h2v1h-2zM312 382h2v1h-2zM317 382h2v1h-2zM322 382h2v1h-2zM327 382h2v1h-2zM332 382h2v1h-2zM337 382h2v1h-2zM342 382h2v1h-2zM347 382h2v1h-2zM352 382h2v1h-2zM357 382h2v1h-2zM362 382h2v1h-2zM367 382h2v1h-2zM372 382h2v1h-2zM377 382h2v1h-2zM382 382h2v1h-2zM387 382h2v1h-2zM392 382h2v1h-2zM397 382h2v1h-2zM402 382h2v1h-2zM407 382h2v1h-2zM412 382h2v1h-2zM417 382h2v1h-2zM422 382h2v1h-2zM427 382h2v1h-2zM432 382h2v1h-2zM437 382h2v1h-2zM442 382h2v1h-2zM447 382h2v1h-2zM452 382h2v1h-2zM457 382h2v1h-2zM462 382h2v1h-2zM467 382h2v1h-2zM472 382h2v1h-2zM477 382h2v1h-2zM482 382h2v1h-2zM487 382h2v1h-2zM492 382h2v1h-2zM497 382h2v1h-2zM502 382h2v1h-2zM507 382h2v1h-2zM512 382h2v1h-2zM517 382h2v1h-2zM522 382h2v1h-2zM527 382h2v1h-2zM532 382h2v1h-2zM537 382h2v1h-2zM542 382h2v1h-2zM547 382h2v1h-2zM552 382h2v1h-2zM557 382h2v1h-2zM562 382h2v1h-2zM567 382h2v1h-2zM572 382h2v1h-2zM577 382h2v1h-2zM582 382h2v1h-2zM587 382h2v1h-2zM592 382h2v1h-2zM597 382h2v1h-2zM602 382h2v1h-2zM607 382h2v1h-2zM612 382h2v1h-2zM12 393h2v1h-2zM17 393h2v1h-2zM22 393h2v1h-2zM27 393h2v1h-2zM32 393h2v1h-2zM37 393h2v1h-2zM42 393h2v1h-2zM47 393h2v1h-2zM52 393h2v1h-2zM57 393h2v1h-2zM62 393h2v1h-2zM67 393h2v1h-2zM72 393h2v1h-2zM77 393h2v1h-2zM82 393h2v1h-2zM87 393h2v1h-2zM92 393h2v1h-2zM97 393h2v1h-2zM102 393h2v1h-2zM107 393h2v1h-2zM112 393h2v1h-2zM117 393h2v1h-2zM122 393h2v1h-2zM127 393h2v1h-2zM132 393h2v1h-2zM137 393h2v1h-2zM142 393h2v1h-2zM147 393h2v1h-2zM152 393h2v1h-2zM157 393h2v1h-2zM162 393h2v1h-2zM167 393h2v1h-2zM172 393h2v1h-2zM177 393h2v1h-2zM182 393h2v1h-2zM187 393h2v1h-2zM192 393h2v1h-2zM197 393h2v1h-2zM202 393h2v1h-2zM207 393h2v1h-2zM212 393h2v1h-2zM217 393h2v1h-2zM222 393h2v1h-2zM227 393h2v1h-2zM232 393h2v1h-2zM237 393h2v1h-2zM242 393h2v1h-2zM247 393h2v1h-2zM252 393h2v1h-2zM257 393h2v1h-2zM262 393h2v1h-2zM267 393h2v1h-2zM272 393h2v1h-2zM277 393h2v1h-2zM282 393h2v1h-2zM287 393h2v1h-2zM292 393h2v1h-2zM297 393h2v1h-2zM302 393h2v1h-2zM307 393h2v1h-2zM312 393h2v1h-2zM317 393h2v1h-2zM322 393h2v1h-2zM327 393h2v1h-2zM332 393h2v1h-2zM337 393h2v1h-2zM342 393h2v1h-2zM347 393h2v1h-2zM352 393h2v1h-2zM357 393h2v1h-2zM362 393h2v1h-2zM367 393h2v1h-2zM372 393h2v1h-2zM377 393h2v1h-2zM382 393h2v1h-2zM387 393h2v1h-2zM392 393h2v1h-2zM397 393h2v1h-2zM402 393h2v1h-2zM407 393h2v1h-2zM412 393h2v1h-2zM417 393h2v1h-2zM422 393h2v1h-2zM427 393h2v1h-2zM432 393h2v1h-2zM437 393h2v1h-2zM442 393h2v1h-2zM447 393h2v1h-2zM452 393h2v1h-2zM457 393h2v1h-2zM462 393h2v1h-2zM467 393h2v1h-2zM472 393h2v1h-2zM477 393h2v1h-2zM482 393h2v1h-2zM487 393h2v1h-2zM492 393h2v1h-2zM497 393h2v1h-2zM502 393h2v1h-2zM507 393h2v1h-2zM512 393h2v1h-2zM517 393h2v1h-2zM522 393h2v1h-2zM527 393h2v1h-2zM532 393h2v1h-2zM537 393h2v1h-2zM542 393h2v1h-2zM547 393h2v1h-2zM552 393h2v1h-2zM557 393h2v1h-2zM562 393h2v1h-2zM567 393h2v1h-2zM572 393h2v1h-2zM577 393h2v1h-2zM582 393h2v1h-2zM587 393h2v1h-2zM592 393h2v1h-2zM597 393h2v1h-2zM602 393h2v1h-2zM607 393h2v1h-2zM612 393h2v1h-2zM12 404h2v1h-2zM17 404h2v1h-2zM22 404h2v1h-2zM27 404h2v1h-2zM32 404h2v1h-2zM37 404h2v1h-2zM42 404h2v1h-2zM47 404h2v1h-2zM52 404h2v1h-2zM57 404h2v1h-2zM62 404h2v1h-2zM67 404h2v1h-2zM72 404h2v1h-2zM77 404h2v1h-2zM82 404h2v1h-2zM87 404h2v1h-2zM92 404h2v1h-2zM97 404h2v1h-2zM102 404h2v1h-2zM107 404h2v1h-2zM112 404h2v1h-2zM117 404h2v1h-2zM122 404h2v1h-2zM127 404h2v1h-2zM132 404h2v1h-2zM137 404h2v1h-2zM142 404h2v1h-2zM147 404h2v1h-2zM152 404h2v1h-2zM157 404h2v1h-2zM162 404h2v1h-2zM167 404h2v1h-2zM172 404h2v1h-2zM177 404h2v1h-2zM182 404h2v1h-2zM187 404h2v1h-2zM192 404h2v1h-2zM197 404h2v1h-2zM202 404h2v1h-2zM207 404h2v1h-2zM212 404h2v1h-2zM217 404h2v1h-2zM222 404h2v1h-2zM227 404h2v1h-2zM232 404h2v1h-2zM237 404h2v1h-2zM242 404h2v1h-2zM247 404h2v1h-2zM252 404h2v1h-2zM257 404h2v1h-2zM262 404h2v1h-2zM267 404h2v1h-2zM272 404h2v1h-2zM277 404h2v1h-2zM282 404h2v1h-2zM287 404h2v1h-2zM292 404h2v1h-2zM297 404h2v1h-2zM302 404h2v1h-2zM307 404h2v1h-2zM312 404h2v1h-2zM317 404h2v1h-2zM322 404h2v1h-2zM327 404h2v1h-2zM332 404h2v1h-2zM337 404h2v1h-2zM342 404h2v1h-2zM347 404h2v1h-2zM352 404h2v1h-2zM357 404h2v1h-2zM362 404h2v1h-2zM367 404h2v1h-2zM372 404h2v1h-2zM377 404h2v1h-2zM382 404h2v1h-2zM387 404h2v1h-2zM392 404h2v1h-2zM397 404h2v1h-2zM402 404h2v1h-2zM407 404h2v1h-2zM412 404h2v1h-2zM417 404h2v1h-2zM422 404h2v1h-2zM427 404h2v1h-2zM432 404h2v1h-2zM437 404h2v1h-2zM442 404h2v1h-2zM447 404h2v1h-2zM452 404h2v1h-2zM457 404h2v1h-2zM462 404h2v1h-2zM467 404h2v1h-2zM472 404h2v1h-2zM477 404h2v1h-2zM482 404h2v1h-2zM487 404h2v1h-2zM492 404h2v1h-2zM497 404h2v1h-2zM502 404h2v1h-2zM507 404h2v1h-2zM512 404h2v1h-2zM517 404h2v1h-2zM522 404h2v1h-2zM527 404h2v1h-2zM532 404h2v1h-2zM537 404h2v1h-2zM542 404h2v1h-2zM547 404h2v1h-2zM552 404h2v1h-2zM557 404h2v1h-2zM562 404h2v1h-2zM567 404h2v1h-2zM572 404h2v1h-2zM577 404h2v1h-2zM582 404h2v1h-2zM587 404h2v1h-2zM592 404h2v1h-2zM597 404h2v1h-2zM602 404h2v1h-2zM607 404h2v1h-2zM612 404h2v1h-2zM12 414h2v1h-2zM17 414h2v1h-2zM22 414h2v1h-2zM27 414h2v1h-2zM32 414h2v1h-2zM37 414h2v1h-2zM42 414h2v1h-2zM47 414h2v1h-2zM52 414h2v1h-2zM57 414h2v1h-2zM62 414h2v1h-2zM67 414h2v1h-2zM72 414h2v1h-2zM77 414h2v1h-2zM82 414h2v1h-2zM87 414h2v1h-2zM92 414h2v1h-2zM97 414h2v1h-2zM102 414h2v1h-2zM107 414h2v1h-2zM112 414h2v1h-2zM117 414h2v1h-2zM122 414h2v1h-2zM127 414h2v1h-2zM132 414h2v1h-2zM137 414h2v1h-2zM142 414h2v1h-2zM147 414h2v1h-2zM152 414h2v1h-2zM157 414h2v1h-2zM162 414h2v1h-2zM167 414h2v1h-2zM172 414h2v1h-2zM177 414h2v1h-2zM182 414h2v1h-2zM187 414h2v1h-2zM192 414h2v1h-2zM197 414h2v1h-2zM202 414h2v1h-2zM207 414h2v1h-2zM212 414h2v1h-2zM217 414h2v1h-2zM222 414h2v1h-2zM227 414h2v1h-2zM232 414h2v1h-2zM237 414h2v1h-2zM242 414h2v1h-2zM247 414h2v1h-2zM252 414h2v1h-2zM257 414h2v1h-2zM262 414h2v1h-2zM267 414h2v1h-2zM272 414h2v1h-2zM277 414h2v1h-2zM282 414h2v1h-2zM287 414h2v1h-2zM292 414h2v1h-2zM297 414h2v1h-2zM302 414h2v1h-2zM307 414h2v1h-2zM312 414h2v1h-2zM317 414h2v1h-2zM322 414h2v1h-2zM327 414h2v1h-2zM332 414h2v1h-2zM337 414h2v1h-2zM342 414h2v1h-2zM347 414h2v1h-2zM352 414h2v1h-2zM357 414h2v1h-2zM362 414h2v1h-2zM367 414h2v1h-2zM372 414h2v1h-2zM377 414h2v1h-2zM382 414h2v1h-2zM387 414h2v1h-2zM392 414h2v1h-2zM397 414h2v1h-2zM402 414h2v1h-2zM407 414h2v1h-2zM412 414h2v1h-2zM417 414h2v1h-2zM422 414h2v1h-2zM427 414h2v1h-2zM432 414h2v1h-2zM437 414h2v1h-2zM442 414h2v1h-2zM447 414h2v1h-2zM452 414h2v1h-2zM457 414h2v1h-2zM462 414h2v1h-2zM467 414h2v1h-2zM472 414h2v1h-2zM477 414h2v1h-2zM482 414h2v1h-2zM487 414h2v1h-2zM492 414h2v1h-2zM497 414h2v1h-2zM502 414h2v1h-2zM507 414h2v1h-2zM512 414h2v1h-2zM517 414h2v1h-2zM522 414h2v1h-2zM527 414h2v1h-2zM532 414h2v1h-2zM537 414h2v1h-2zM542 414h2v1h-2zM547 414h2v1h-2zM552 414h2v1h-2zM557 414h2v1h-2zM562 414h2v1h-2zM567 414h2v1h-2zM572 414h2v1h-2zM577 414h2v1h-2zM582 414h2v1h-2zM587 414h2v1h-2zM592 414h2v1h-2zM597 414h2v1h-2zM602 414h2v1h-2zM607 414h2v1h-2zM612 414h2v1h-2zM38 4h1v2h-1zM38 9h1v2h-1zM38 14h1v2h-1zM38 19h1v2h-1zM38 24h1v2h-1zM38 29h1v2h-1zM38 34h1v2h-1zM38 39h1v2h-1zM38 44h1v2h-1zM38 49h1v2h-1zM38 54h1v2h-1zM38 59h1v2h-1zM38 64h1v2h-1zM38 69h1v2h-1zM38 74h1v2h-1zM38 79h1v2h-1zM38 84h1v2h-1zM38 89h1v2h-1zM38 94h1v2h-1zM38 99h1v2h-1zM38 104h1v2h-1zM38 109h1v2h-1zM38 114h1v2h-1zM38 119h1v2h-1zM38 124h1v2h-1zM38 129h1v2h-1zM38 134h1v2h-1zM38 139h1v2h-1zM38 144h1v2h-1zM38 149h1v2h-1zM38 154h1v2h-1zM38 159h1v2h-1zM38 164h1v2h-1zM38 169h1v2h-1zM38 174h1v2h-1zM38 179h1v2h-1zM38 184h1v2h-1zM38 189h1v2h-1zM38 194h1v2h-1zM38 199h1v2h-1zM38 204h1v2h-1zM38 209h1v2h-1zM38 214h1v2h-1zM38 219h1v2h-1zM38 224h1v2h-1zM38 229h1v2h-1zM38 234h1v2h-1zM38 239h1v2h-1zM38 244h1v2h-1zM38 249h1v2h-1zM38 254h1v2h-1zM38 259h1v2h-1zM38 264h1v2h-1zM38 269h1v2h-1zM38 274h1v2h-1zM38 309h1v2h-1zM38 314h1v2h-1zM38 319h1v2h-1zM38 324h1v2h-1zM38 329h1v2h-1zM38 334h1v2h-1zM38 339h1v2h-1zM38 344h1v2h-1zM38 349h1v2h-1zM38 354h1v2h-1zM38 359h1v2h-1zM38 364h1v2h-1zM38 369h1v2h-1zM38 374h1v2h-1zM38 379h1v2h-1zM38 384h1v2h-1zM38 389h1v2h-1zM38 394h1v2h-1zM38 399h1v2h-1zM38 404h1v2h-1zM38 409h1v2h-1zM38 414h1v2h-1zM38 419h1v2h-1zM38 424h1v1h-1zM111 4h1v2h-1zM111 9h1v2h-1zM111 14h1v2h-1zM111 19h1v2h-1zM111 24h1v2h-1zM111 29h1v2h-1zM111 34h1v2h-1zM111 39h1v2h-1zM111 44h1v2h-1zM111 49h1v2h-1zM111 54h1v2h-1zM111 59h1v2h-1zM111 64h1v2h-1zM111 69h1v2h-1zM111 74h1v2h-1zM111 79h1v2h-1zM111 84h1v2h-1zM111 89h1v2h-1zM111 94h1v2h-1zM111 99h1v2h-1zM111 104h1v2h-1zM111 109h1v2h-1zM111 114h1v2h-1zM111 119h1v2h-1zM111 124h1v2h-1zM111 129h1v2h-1zM111 134h1v2h-1zM111 139h1v2h-1zM111 144h1v2h-1zM111 149h1v2h-1zM111 154h1v2h-1zM111 159h1v2h-1zM111 164h1v2h-1zM111 169h1v2h-1zM111 174h1v2h-1zM111 179h1v2h-1zM111 184h1v2h-1zM111 189h1v2h-1zM111 194h1v2h-1zM111 199h1v2h-1zM111 204h1v2h-1zM111 209h1v2h-1zM111 214h1v2h-1zM111 219h1v2h-1zM111 224h1v2h-1zM111 229h1v2h-1zM111 234h1v2h-1zM111 239h1v2h-1zM111 244h1v2h-1zM111 249h1v2h-1zM111 254h1v2h-1zM111 259h1v2h-1zM111 264h1v2h-1zM111 269h1v2h-1zM111 274h1v2h-1zM111 309h1v2h-1zM111 314h1v2h-1zM111 319h1v2h-1zM111 324h1v2h-1zM111 329h1v2h-1zM111 334h1v2h-1zM111 339h1v2h-1zM111 344h1v2h-1zM111 349h1v2h-1zM111 354h1v2h-1zM111 359h1v2h-1zM111 364h1v2h-1zM111 369h1v2h-1zM111 374h1v2h-1zM111 379h1v2h-1zM111 384h1v2h-1zM111 389h1v2h-1zM111 394h1v2h-1zM111 399h1v2h-1zM111 404h1v2h-1zM111 409h1v2h-1zM111 414h1v2h-1zM111 419h1v2h-1zM111 424h1v1h-1zM184 4h1v2h-1zM184 9h1v2h-1zM184 14h1v2h-1zM184 19h1v2h-1zM184 24h1v2h-1zM184 29h1v2h-1zM184 34h1v2h-1zM184 39h1v2h-1zM184 44h1v2h-1zM184 49h1v2h-1zM184 54h1v2h-1zM184 59h1v2h-1zM184 64h1v2h-1zM184 69h1v2h-1zM184 74h1v2h-1zM184 79h1v2h-1zM184 84h1v2h-1zM184 89h1v2h-1zM184 94h1v2h-1zM184 99h1v2h-1zM184 104h1v2h-1zM184 109h1v2h-1zM184 114h1v2h-1zM184 119h1v2h-1zM184 124h1v2h-1zM184 129h1v2h-1zM184 134h1v2h-1zM184 139h1v2h-1zM184 144h1v2h-1zM184 149h1v2h-1zM184 154h1v2h-1zM184 159h1v2h-1zM184 164h1v2h-1zM184 169h1v2h-1zM184 174h1v2h-1zM184 179h1v2h-1zM184 184h1v2h-1zM184 189h1v2h-1zM184 194h1v2h-1zM184 199h1v2h-1zM184 204h1v2h-1zM184 209h1v2h-1zM184 214h1v2h-1zM184 219h1v2h-1zM184 224h1v2h-1zM184 229h1v2h-1zM184 234h1v2h-1zM184 239h1v2h-1zM184 244h1v2h-1zM184 249h1v2h-1zM184 254h1v2h-1zM184 259h1v2h-1zM184 264h1v2h-1zM184 269h1v2h-1zM184 274h1v2h-1zM184 309h1v2h-1zM184 314h1v2h-1zM184 319h1v2h-1zM184 324h1v2h-1zM184 329h1v2h-1zM184 334h1v2h-1zM184 339h1v2h-1zM184 344h1v2h-1zM184 349h1v2h-1zM184 354h1v2h-1zM184 359h1v2h-1zM184 364h1v2h-1zM184 369h1v2h-1zM184 374h1v2h-1zM184 379h1v2h-1zM184 384h1v2h-1zM184 389h1v2h-1zM184 394h1v2h-1zM184 399h1v2h-1zM184 404h1v2h-1zM184 409h1v2h-1zM184 414h1v2h-1zM184 419h1v2h-1zM184 424h1v1h-1zM257 4h1v2h-1zM257 9h1v2h-1zM257 14h1v2h-1zM257 19h1v2h-1zM257 24h1v2h-1zM257 29h1v2h-1zM257 34h1v2h-1zM257 39h1v2h-1zM257 44h1v2h-1zM257 49h1v2h-1zM257 54h1v2h-1zM257 59h1v2h-1zM257 64h1v2h-1zM257 69h1v2h-1zM257 74h1v2h-1zM257 79h1v2h-1zM257 84h1v2h-1zM257 89h1v2h-1zM257 94h1v2h-1zM257 99h1v2h-1zM257 104h1v2h-1zM257 109h1v2h-1zM257 114h1v2h-1zM257 119h1v2h-1zM257 124h1v2h-1zM257 129h1v2h-1zM257 134h1v2h-1zM257 139h1v2h-1zM257 144h1v2h-1zM257 149h1v2h-1zM257 154h1v2h-1zM257 159h1v2h-1zM257 164h1v2h-1zM257 169h1v2h-1zM257 174h1v2h-1zM257 179h1v2h-1zM257 184h1v2h-1zM257 189h1v2h-1zM257 194h1v2h-1zM257 199h1v2h-1zM257 204h1v2h-1zM257 209h1v2h-1zM257 214h1v2h-1zM257 219h1v2h-1zM257 224h1v2h-1zM257 229h1v2h-1zM257 234h1v2h-1zM257 239h1v2h-1zM257 244h1v2h-1zM257 249h1v2h-1zM257 254h1v2h-1zM257 259h1v2h-1zM257 264h1v2h-1zM257 269h1v2h-1zM257 274h1v2h-1zM257 309h1v2h-1zM257 314h1v2h-1zM257 319h1v2h-1zM257 324h1v2h-1zM257 329h1v2h-1zM257 334h1v2h-1zM257 339h1v2h-1zM257 344h1v2h-1zM257 349h1v2h-1zM257 354h1v2h-1zM257 359h1v2h-1zM257 364h1v2h-1zM257 369h1v2h-1zM257 374h1v2h-1zM257 379h1v2h-1zM257 384h1v2h-1zM257 389h1v2h-1zM257 394h1v2h-1zM257 399h1v2h-1zM257 404h1v2h-1zM257 409h1v2h-1zM257 414h1v2h-1zM257 419h1v2h-1zM257 424h1v1h-1zM330 4h1v2h-1zM330 9h1v2h-1zM330 14h1v2h-1zM330 19h1v2h-1zM330 24h1v2h-1zM330 29h1v2h-1zM330 34h1v2h-1zM330 39h1v2h-1zM330 44h1v2h-1zM330 49h1v2h-1zM330 54h1v2h-1zM330 59h1v2h-1zM330 64h1v2h-1zM330 69h1v2h-1zM330 74h1v2h-1zM330 79h1v2h-1zM330 84h1v2h-1zM330 89h1v2h-1zM330 94h1v2h-1zM330 99h1v2h-1zM330 104h1v2h-1zM330 109h1v2h-1zM330 114h1v2h-1zM330 119h1v2h-1zM330 124h1v2h-1zM330 129h1v2h-1zM330 134h1v2h-1zM330 139h1v2h-1zM330 144h1v2h-1zM330 149h1v2h-1zM330 154h1v2h-1zM330 159h1v2h-1zM330 164h1v2h-1zM330 169h1v2h-1zM330 174h1v2h-1zM330 179h1v2h-1zM330 184h1v2h-1zM330 189h1v2h-1zM330 194h1v2h-1zM330 199h1v2h-1zM330 204h1v2h-1zM330 209h1v2h-1zM330 214h1v2h-1zM330 219h1v2h-1zM330 224h1v2h-1zM330 229h1v2h-1zM330 234h1v2h-1zM330 239h1v2h-1zM330 244h1v2h-1zM330 249h1v2h-1zM330 254h1v2h-1zM330 259h1v2h-1zM330 264h1v2h-1zM330 269h1v2h-1zM330 274h1v2h-1zM330 309h1v2h-1zM330 314h1v2h-1zM330 319h1v2h-1zM330 324h1v2h-1zM330 329h1v2h-1zM330 334h1v2h-1zM330 339h1v2h-1zM330 344h1v2h-1zM330 349h1v2h-1zM330 354h1v2h-1zM330 359h1v2h-1zM330 364h1v2h-1zM330 369h1v2h-1zM330 374h1v2h-1zM330 379h1v2h-1zM330 384h1v2h-1zM330 389h1v2h-1zM330 394h1v2h-1zM330 399h1v2h-1zM330 404h1v2h-1zM330 409h1v2h-1zM330 414h1v2h-1zM330 419h1v2h-1zM330 424h1v1h-1zM403 4h1v2h-1zM403 9h1v2h-1zM403 14h1v2h-1zM403 19h1v2h-1zM403 24h1v2h-1zM403 29h1v2h-1zM403 34h1v2h-1zM403 39h1v2h-1zM403 44h1v2h-1zM403 49h1v2h-1zM403 54h1v2h-1zM403 59h1v2h-1zM403 64h1v2h-1zM403 69h1v2h-1zM403 74h1v2h-1zM403 79h1v2h-1zM403 84h1v2h-1zM403 89h1v2h-1zM403 94h1v2h-1zM403 99h1v2h-1zM403 104h1v2h-1zM403 109h1v2h-1zM403 114h1v2h-1zM403 119h1v2h-1zM403 124h1v2h-1zM403 129h1v2h-1zM403 134h1v2h-1zM403 139h1v2h-1zM403 144h1v2h-1zM403 149h1v2h-1zM403 154h1v2h-1zM403 159h1v2h-1zM403 164h1v2h-1zM403 169h1v2h-1zM403 174h1v2h-1zM403 179h1v2h-1zM403 184h1v2h-1zM403 189h1v2h-1zM403 194h1v2h-1zM403 199h1v2h-1zM403 204h1v2h-1zM403 209h1v2h-1zM403 214h1v2h-1zM403 219h1v2h-1zM403 224h1v2h-1zM403 229h1v2h-1zM403 234h1v2h-1zM403 239h1v2h-1zM403 244h1v2h-1zM403 249h1v2h-1zM403 254h1v2h-1zM403 259h1v2h-1zM403 264h1v2h-1zM403 269h1v2h-1zM403 274h1v2h-1zM403 309h1v2h-1zM403 314h1v2h-1zM403 319h1v2h-1zM403 324h1v2h-1zM403 329h1v2h-1zM403 334h1v2h-1zM403 339h1v2h-1zM403 344h1v2h-1zM403 349h1v2h-1zM403 354h1v2h-1zM403 359h1v2h-1zM403 364h1v2h-1zM403 369h1v2h-1zM403 374h1v2h-1zM403 379h1v2h-1zM403 384h1v2h-1zM403 389h1v2h-1zM403 394h1v2h-1zM403 399h1v2h-1zM403 404h1v2h-1zM403 409h1v2h-1zM403 414h1v2h-1zM403 419h1v2h-1zM403 424h1v1h-1zM475 4h1v2h-1zM475 9h1v2h-1zM475 14h1v2h-1zM475 19h1v2h-1zM475 24h1v2h-1zM475 29h1v2h-1zM475 34h1v2h-1zM475 39h1v2h-1zM475 44h1v2h-1zM475 49h1v2h-1zM475 54h1v2h-1zM475 59h1v2h-1zM475 64h1v2h-1zM475 69h1v2h-1zM475 74h1v2h-1zM475 79h1v2h-1zM475 84h1v2h-1zM475 89h1v2h-1zM475 94h1v2h-1zM475 99h1v2h-1zM475 104h1v2h-1zM475 109h1v2h-1zM475 114h1v2h-1zM475 119h1v2h-1zM475 124h1v2h-1zM475 129h1v2h-1zM475 134h1v2h-1zM475 139h1v2h-1zM475 144h1v2h-1zM475 149h1v2h-1zM475 154h1v2h-1zM475 159h1v2h-1zM475 164h1v2h-1zM475 169h1v2h-1zM475 174h1v2h-1zM475 179h1v2h-1zM475 184h1v2h-1zM475 189h1v2h-1zM475 194h1v2h-1zM475 199h1v2h-1zM475 204h1v2h-1zM475 209h1v2h-1zM475 214h1v2h-1zM475 219h1v2h-1zM475 224h1v2h-1zM475 229h1v2h-1zM475 234h1v2h-1zM475 239h1v2h-1zM475 244h1v2h-1zM475 249h1v2h-1zM475 254h1v2h-1zM475 259h1v2h-1zM475 264h1v2h-1zM475 269h1v2h-1zM475 274h1v2h-1zM475 309h1v2h-1zM475 314h1v2h-1zM475 319h1v2h-1zM475 324h1v2h-1zM475 329h1v2h-1zM475 334h1v2h-1zM475 339h1v2h-1zM475 344h1v2h-1zM475 349h1v2h-1zM475 354h1v2h-1zM475 359h1v2h-1zM475 364h1v2h-1zM475 369h1v2h-1zM475 374h1v2h-1zM475 379h1v2h-1zM475 384h1v2h-1zM475 389h1v2h-1zM475 394h1v2h-1zM475 399h1v2h-1zM475 404h1v2h-1zM475 409h1v2h-1zM475 414h1v2h-1zM475 419h1v2h-1zM475 424h1v1h-1zM548 4h1v2h-1zM548 9h1v2h-1zM548 14h1v2h-1zM548 19h1v2h-1zM548 24h1v2h-1zM548 29h1v2h-1zM548 34h1v2h-1zM548 39h1v2h-1zM548 44h1v2h-1zM548 49h1v2h-1zM548 54h1v2h-1zM548 59h1v2h-1zM548 64h1v2h-1zM548 69h1v2h-1zM548 74h1v2h-1zM548 79h1v2h-1zM548 84h1v2h-1zM548 89h1v2h-1zM548 94h1v2h-1zM548 99h1v2h-1zM548 104h1v2h-1zM548 109h1v2h-1zM548 114h1v2h-1zM548 119h1v2h-1zM548 124h1v2h-1zM548 129h1v2h-1zM548 134h1v2h-1zM548 139h1v2h-1zM548 144h1v2h-1zM548 149h1v2h-1zM548 154h1v2h-1zM548 159h1v2h-1zM548 164h1v2h-1zM548 169h1v2h-1zM548 174h1v2h-1zM548 179h1v2h-1zM548 184h1v2h-1zM548 189h1v2h-1zM548 194h1v2h-1zM548 199h1v2h-1zM548 204h1v2h-1zM548 209h1v2h-1zM548 214h1v2h-1zM548 219h1v2h-1zM548 224h1v2h-1zM548 229h1v2h-1zM548 234h1v2h-1zM548 239h1v2h-1zM548 244h1v2h-1zM548 249h1v2h-1zM548 254h1v2h-1zM548 259h1v2h-1zM548 264h1v2h-1zM548 269h1v2h-1zM548 274h1v2h-1zM548 309h1v2h-1zM548 314h1v2h-1zM548 319h1v2h-1zM548 324h1v2h-1zM548 329h1v2h-1zM548 334h1v2h-1zM548 339h1v2h-1zM548 344h1v2h-1zM548 349h1v2h-1zM548 354h1v2h-1zM548 359h1v2h-1zM548 364h1v2h-1zM548 369h1v2h-1zM548 374h1v2h-1zM548 379h1v2h-1zM548 384h1v2h-1zM548 389h1v2h-1zM548 394h1v2h-1zM548 399h1v2h-1zM548 404h1v2h-1zM548 409h1v2h-1zM548 414h1v2h-1zM548 419h1v2h-1zM548 424h1v1h-1z" fill="#b4b4b4"/>
<path d="M12 4h1v1h-1z M616 4h1v1h-1zM12 58h1v1h-1z M616 58h1v1h-1zM12 112h1v1h-1z M616 112h1v1h-1zM12 167h1v1h-1z M616 167h1v1h-1zM12 221h1v1h-1z M616 221h1v1h-1zM12 275h1v1h-1z M616 275h1v1h-1zM12 308h1v1h-1z M616 308h1v1h-1zM12 319h1v1h-1z M616 319h1v1h-1zM12 329h1v1h-1z M616 329h1v1h-1zM12 340h1v1h-1z M616 340h1v1h-1zM12 351h1v1h-1z M616 351h1v1h-1zM12 361h1v1h-1z M616 361h1v1h-1zM12 372h1v1h-1z M616 372h1v1h-1zM12 382h1v1h-1z M616 382h1v1h-1zM12 393h1v1h-1z M616 393h1v1h-1zM12 404h1v1h-1z M616 404h1v1h-1zM12 414h1v1h-1z M616 414h1v1h-1z" fill="#555"/>
<rect x="12" y="425" width="606" height="1" fill="#666666"/>
<polyline points="12.0,113.9 50.0,113.9 51.5,115.1 56.2,115.6 62.4,117.0 76.4,117.0 78.0,115.9 92.0,115.9 94.3,114.8 98.2,113.9 102.9,113.9 105.2,114.8 110.0,114.9 128.0,114.9 131.3,116.7 138.0,121.1 144.7,122.7 152.7,124.7 155.0,125.8 158.1,127.0 160.4,130.1 162.8,132.8 164.7,135.2 166.7,139.4 168.6,144.1 170.9,146.0 174.4,148.0 178.3,148.8 182.2,147.6 186.1,146.8 190.8,145.7 195.0,144.7 201.7,142.7 209.7,140.0 215.7,135.7 222.3,133.7 229.0,133.0 235.7,129.7 241.0,125.7 247.7,121.7 252.7,119.5 255.3,118.5 260.0,117.6 264.7,117.2 267.3,116.2 269.3,113.0 272.0,109.5 274.7,107.2 278.0,104.5 280.7,102.0 283.3,100.2 285.3,97.3 288.0,92.0 293.3,88.7 298.7,85.3 304.0,82.7 309.3,75.3 314.7,71.6 322.7,70.0 330.7,68.7 339.0,66.7 345.7,63.0 351.0,65.7 355.0,66.7 360.3,64.4 368.3,63.6 375.0,63.9 382.1,62.6 386.6,60.3 389.2,57.7 391.4,55.0 398.0,46.7 404.7,45.6 410.0,44.7 416.7,42.7 420.7,43.3 423.3,44.7 427.3,43.0 430.0,42.6 435.4,45.2 447.9,47.4 458.7,49.3 465.8,52.7 473.0,52.7 481.9,51.1 501.6,50.6 508.8,47.0 517.8,45.2 526.7,42.2 532.1,40.7 537.5,41.6 542.8,42.9 550.7,43.3 559.6,43.9 564.9,47.8 570.2,52.2 575.6,55.8 580.9,62.0 588.0,65.6 595.1,70.0 600.4,77.1 607.6,83.3 611.1,88.7 613.8,95.8 616.4,102.9" fill="none" stroke="#ff0000" stroke-width="2" stroke-linejoin="round"/>
<polyline points="12.0,137.3 16.6,137.7 17.3,138.1 29.8,138.1 31.3,139.2 40.7,139.5 41.4,140.5 92.0,140.5 93.5,141.5 102.0,141.5 105.3,143.3 112.0,144.3 121.3,144.7 128.0,146.0 133.3,149.3 138.7,153.3 145.3,156.7 154.7,159.3 160.0,161.6 169.4,172.2 176.7,175.6 182.2,174.8 188.9,173.3 198.1,172.1 206.1,169.4 214.2,167.5 218.3,165.8 225.0,165.6 231.2,164.4 234.3,162.2 240.6,159.1 245.2,157.2 249.9,154.6 254.5,153.5 260.0,153.4 263.0,152.8 268.3,150.3 275.0,145.0 281.7,141.0 288.3,135.0 295.0,131.7 301.7,129.0 305.3,127.6 314.2,117.3 321.3,116.2 332.0,113.9 340.9,112.1 348.0,106.8 352.3,104.9 355.0,103.6 358.3,102.0 361.7,100.6 365.0,99.5 370.0,98.3 375.0,98.3 380.7,96.7 383.9,94.6 389.2,90.6 397.2,83.4 400.8,82.4 405.0,81.5 416.1,78.1 426.1,75.5 431.8,74.5 456.9,74.5 469.4,76.2 478.4,75.7 498.0,75.7 501.6,76.6 516.0,76.2 524.9,76.9 537.5,78.7 550.0,80.5 559.6,81.9 566.7,86.5 575.6,90.4 580.9,96.7 593.3,100.8 598.7,104.7 601.6,107.5 604.8,109.5 607.9,112.2 612.4,116.6 614.6,119.3 616.7,123.3" fill="none" stroke="#ff0000" stroke-width="1" stroke-linejoin="round"/>
<polyline points="12.0,160.2 16.6,160.5 17.3,161.3 23.6,161.8 31.3,164.1 40.7,164.4 41.4,165.3 50.0,165.3 51.5,164.1 60.9,164.1 62.4,163.3 85.8,163.3 87.3,164.1 93.5,165.7 101.3,169.5 106.7,172.3 112.0,173.3 126.7,175.3 133.3,180.0 142.7,188.7 150.7,190.7 160.0,193.6 165.6,197.8 171.1,200.0 186.7,200.3 193.3,199.4 196.7,199.0 207.9,198.4 213.3,197.3 219.1,196.3 226.7,195.3 233.9,194.3 239.2,193.3 244.2,192.3 248.2,191.2 256.3,188.6 263.4,188.6 264.3,187.5 268.8,187.5 270.6,186.4 274.2,185.5 276.9,184.4 279.6,183.5 283.1,182.3 285.8,180.5 288.5,179.4 291.2,177.6 293.9,176.6 296.6,175.8 300.1,174.8 303.7,173.6 307.1,170.5 314.2,163.2 321.3,161.9 332.0,160.1 340.9,157.8 346.3,151.6 350.0,146.6 353.0,142.0 361.6,133.6 369.6,131.8 380.2,129.1 387.4,125.6 394.5,119.9 400.0,118.1 405.0,117.0 411.7,115.7 419.7,110.0 427.7,105.0 433.0,102.6 438.3,101.3 447.9,99.9 455.0,99.6 463.1,98.4 476.5,98.7 488.6,100.0 498.0,100.6 501.5,101.5 506.1,104.0 510.0,105.2 518.2,105.9 523.5,107.3 527.0,109.5 533.0,113.0 541.0,114.8 550.0,116.0 558.0,118.0 563.3,121.3 570.0,124.7 579.3,129.3 590.0,131.6 596.7,133.3 603.3,136.0 610.0,138.7 616.7,142.7" fill="none" stroke="#00cc66" stroke-width="1" stroke-linejoin="round"/>
<polyline points="12.0,184.4 19.4,184.4 30.6,187.8 36.1,189.2 40.6,190.0 46.1,190.0 51.7,189.5 55.9,189.5 57.0,188.5 58.2,187.6 61.3,187.2 66.8,186.2 76.7,186.1 77.0,187.8 87.0,187.8 95.8,193.0 100.2,196.0 106.3,200.6 112.0,201.2 127.0,205.0 135.0,211.7 138.0,214.4 142.0,221.7 145.0,222.8 155.0,225.0 165.0,226.0 175.0,226.4 176.2,225.4 186.4,225.4 186.8,226.4 222.7,226.4 224.4,225.2 248.9,225.4 249.1,224.4 259.4,224.4 259.8,223.4 277.8,223.4 278.2,222.3 285.8,222.3 286.2,221.3 290.8,221.3 291.2,220.4 295.0,220.2 301.3,219.3 304.0,218.6 307.5,216.4 314.3,209.6 317.4,208.5 321.9,207.5 326.3,206.5 330.8,205.6 335.3,204.5 339.8,203.6 342.0,201.8 346.0,196.0 349.0,190.0 354.0,180.0 361.0,168.5 367.8,165.8 380.2,162.2 389.1,157.5 397.2,153.4 405.0,151.8 413.0,150.0 419.7,144.3 425.0,138.3 435.7,131.0 445.0,128.0 453.3,126.0 460.0,124.0 466.7,121.3 473.3,121.0 482.7,123.3 490.7,124.7 499.0,123.7 503.0,128.3 508.3,133.0 515.0,135.0 521.7,138.0 525.2,141.0 530.0,145.8 531.0,146.6 537.7,150.3 545.7,153.0 558.3,154.7 565.3,159.6 574.7,161.3 580.0,163.3 588.0,162.7 608.0,162.7 610.7,163.3 616.7,162.4" fill="none" stroke="#0000ff" stroke-width="1" stroke-linejoin="round"/>
<polyline points="12.0,205.9 16.1,207.0 19.4,207.4 22.8,208.3 27.2,211.1 31.7,213.7 37.2,214.8 43.9,215.0 47.2,215.9 51.7,214.8 56.1,212.8 60.6,211.0 64.0,209.3 66.7,209.7 86.0,210.2 89.3,211.5 94.7,215.5 100.0,220.0 105.3,227.5 108.7,229.6 116.0,232.0 124.0,234.7 130.0,238.0 135.0,241.0 138.0,243.9 140.0,247.8 145.0,256.0 155.0,257.2 158.0,258.3 165.0,256.7 172.0,253.3 175.0,250.6 180.0,250.8 190.7,252.2 201.3,254.4 222.7,255.4 230.0,255.8 234.0,256.6 239.0,257.5 244.3,258.6 268.5,259.2 271.2,260.4 275.2,261.5 281.0,262.5 290.0,263.2 304.7,263.2 308.3,261.5 314.5,254.8 320.8,254.0 325.3,253.0 329.8,252.0 334.2,251.0 340.5,249.8 345.0,241.5 347.0,234.0 351.0,222.0 355.0,214.0 357.0,210.0 361.0,202.4 371.0,198.0 385.0,191.6 393.0,188.0 413.0,185.6 419.0,178.0 425.0,168.0 435.0,160.0 440.0,156.7 448.0,152.7 454.7,149.6 460.0,148.7 466.0,143.3 473.3,143.3 480.0,144.3 486.7,146.0 493.3,148.0 500.3,151.0 505.7,156.3 509.7,159.7 516.3,164.0 520.8,166.8 523.0,169.5 525.0,173.3 529.8,179.3 533.3,183.3 537.8,185.6 543.1,187.8 550.0,189.6 555.7,191.3 560.0,193.7 564.0,196.0 581.3,196.0 586.7,194.0 594.7,192.0 601.3,188.7 608.0,187.6 612.0,186.3 616.7,181.3" fill="none" stroke="#0000ff" stroke-width="2" stroke-linejoin="round"/>
<path d="M20 183h5v8h-5zM22 191h1v2h-1zM46 187h5v5h-5zM48 183h1v4h-1zM48 192h1v5h-1zM83 189h5v2h-5zM85 188h1v1h-1zM85 191h1v6h-1zM104 221h5v5h-5zM106 219h1v2h-1zM106 226h1v4h-1zM130 227h5v8h-5zM132 226h1v1h-1zM132 235h1v1h-1zM135 233h5v5h-5zM137 225h1v8h-1zM137 238h1v3h-1zM156 238h5v17h-5zM158 237h1v1h-1zM158 255h1v3h-1zM161 213h5v32h-5zM163 245h1v6h-1zM166 209h5v7h-5zM168 205h1v4h-1zM168 216h1v4h-1zM171 169h5v30h-5zM177 164h5v2h-5zM179 166h1v12h-1zM192 148h5v5h-5zM194 146h1v2h-1zM194 153h1v3h-1zM197 151h5v8h-5zM199 150h1v1h-1zM213 155h5v17h-5zM215 172h1v5h-1zM234 158h5v5h-5zM236 154h1v4h-1zM236 163h1v1h-1zM250 151h5v5h-5zM252 150h1v1h-1zM252 156h1v9h-1zM567 133h5v17h-5zM569 150h1v1h-1zM572 130h5v2h-5zM574 132h1v5h-1zM593 123h5v12h-5zM595 118h1v5h-1zM598 128h5v4h-5zM600 126h1v2h-1zM600 132h1v5h-1zM614 153h5v3h-5zM616 148h1v5h-1zM616 156h1v2h-1zM270 126h5v14h-5zM272 140h1v2h-1zM281 108h5v15h-5zM283 106h1v2h-1zM302 98h5v13h-5zM304 96h1v2h-1zM304 111h1v1h-1zM307 97h5v4h-5zM309 93h1v4h-1zM309 101h1v2h-1zM338 96h5v6h-5zM340 91h1v5h-1zM348 87h5v4h-5zM350 83h1v4h-1zM350 91h1v5h-1zM359 80h5v7h-5zM361 78h1v2h-1zM361 87h1v7h-1zM380 71h5v13h-5zM382 68h1v3h-1zM382 84h1v1h-1zM390 68h5v15h-5zM392 83h1v1h-1zM395 60h5v8h-5zM397 68h1v4h-1zM427 72h5v19h-5zM429 70h1v2h-1zM429 91h1v6h-1zM447 111h5v5h-5zM449 106h1v5h-1zM449 116h1v7h-1zM463 122h5v12h-5zM465 116h1v6h-1zM465 134h1v1h-1zM489 126h5v8h-5zM491 124h1v2h-1zM491 134h1v2h-1zM525 174h5v7h-5zM527 171h1v3h-1zM527 181h1v1h-1zM541 157h5v1h-5zM543 156h1v1h-1zM543 158h1v8h-1z" fill="#ff0000"/>
<path d="M10 177h5v12h-5zM12 189h1v7h-1zM26 188h5v10h-5zM28 185h1v3h-1zM28 198h1v3h-1zM31 187h5v3h-5zM33 183h1v4h-1zM33 190h1v3h-1zM52 177h5v5h-5zM54 169h1v8h-1zM54 182h1v1h-1zM57 179h5v3h-5zM59 172h1v7h-1zM59 182h1v2h-1zM62 175h5v14h-5zM64 173h1v2h-1zM64 189h1v2h-1zM67 189h5v3h-5zM69 188h1v1h-1zM69 192h1v6h-1zM88 185h5v12h-5zM90 183h1v2h-1zM90 197h1v1h-1zM93 197h5v6h-5zM95 189h1v8h-1zM95 203h1v5h-1zM99 200h5v16h-5zM101 216h1v6h-1zM125 220h5v12h-5zM127 232h1v1h-1zM140 247h5v20h-5zM142 267h1v1h-1zM203 161h5v6h-5zM205 167h1v2h-1zM208 170h5v12h-5zM210 163h1v7h-1zM210 182h1v4h-1zM229 153h5v3h-5zM231 156h1v11h-1zM239 147h5v1h-5zM241 143h1v4h-1zM241 148h1v7h-1zM244 145h5v5h-5zM246 138h1v7h-1zM557 155h5v11h-5zM559 154h1v1h-1zM562 162h5v2h-5zM564 158h1v4h-1zM564 164h1v1h-1zM578 130h5v24h-5zM580 128h1v2h-1zM604 144h5v1h-5zM606 140h1v4h-1zM606 145h1v9h-1zM609 139h5v18h-5zM611 157h1v1h-1zM265 145h5v3h-5zM267 143h1v2h-1zM286 107h5v7h-5zM288 114h1v2h-1zM312 90h5v18h-5zM343 89h5v5h-5zM345 81h1v8h-1zM345 94h1v3h-1zM354 86h5v8h-5zM356 83h1v3h-1zM356 94h1v5h-1zM385 80h5v8h-5zM387 73h1v7h-1zM411 70h5v5h-5zM413 75h1v8h-1zM416 73h5v12h-5zM418 85h1v1h-1zM421 76h5v12h-5zM423 73h1v3h-1zM423 88h1v1h-1zM432 86h5v18h-5zM434 83h1v3h-1zM434 104h1v7h-1zM453 112h5v20h-5zM455 105h1v7h-1zM458 129h5v11h-5zM460 126h1v3h-1zM468 133h5v13h-5zM470 131h1v2h-1zM484 144h5v2h-5zM486 142h1v2h-1zM486 146h1v8h-1zM494 120h5v6h-5zM496 119h1v1h-1zM496 126h1v3h-1zM499 119h5v10h-5zM501 129h1v8h-1zM505 149h5v12h-5zM507 161h1v3h-1zM520 166h5v7h-5zM522 160h1v6h-1zM522 173h1v1h-1zM531 164h5v8h-5zM533 161h1v3h-1z" fill="#0000ff"/>
<rect x="494" y="124" width="2" height="1" fill="#ffffff"/>
<rect x="497" y="124" width="2" height="1" fill="#ffffff"/>
<path d="M11 392h3v33h-3zM21 399h3v26h-3zM27 386h3v39h-3zM32 389h3v36h-3zM47 403h3v22h-3zM53 393h3v32h-3zM58 399h3v26h-3zM63 394h3v31h-3zM68 396h3v29h-3zM84 391h3v34h-3zM89 387h3v38h-3zM94 368h3v57h-3zM100 353h3v72h-3zM105 376h3v49h-3zM126 392h3v33h-3zM131 385h3v40h-3zM136 385h3v40h-3zM141 369h3v56h-3zM157 358h3v67h-3zM162 343h3v82h-3zM167 374h3v51h-3zM172 357h3v68h-3zM178 366h3v59h-3zM193 376h3v49h-3zM198 381h3v44h-3zM204 386h3v39h-3zM209 378h3v47h-3zM214 344h3v81h-3zM230 382h3v43h-3zM235 382h3v43h-3zM240 344h3v81h-3zM245 388h3v37h-3zM251 387h3v38h-3zM266 406h3v19h-3zM271 373h3v52h-3zM282 386h3v39h-3zM287 423h3v2h-3zM303 411h3v14h-3zM308 405h3v20h-3zM313 398h3v27h-3zM339 420h3v5h-3zM344 377h3v48h-3zM349 368h3v57h-3zM355 365h3v60h-3zM360 349h3v76h-3zM381 355h3v70h-3zM386 322h3v103h-3zM391 317h3v108h-3zM396 324h3v101h-3zM412 362h3v63h-3zM417 368h3v57h-3zM422 359h3v66h-3zM428 349h3v76h-3zM433 336h3v89h-3zM448 387h3v38h-3zM454 363h3v62h-3zM459 388h3v37h-3zM464 363h3v62h-3zM469 369h3v56h-3zM485 374h3v51h-3zM490 389h3v36h-3zM495 379h3v46h-3zM500 372h3v53h-3zM506 367h3v58h-3zM521 383h3v42h-3zM526 378h3v47h-3zM532 386h3v39h-3zM542 379h3v46h-3zM558 399h3v26h-3zM563 413h3v12h-3zM568 395h3v30h-3zM573 401h3v24h-3zM579 391h3v34h-3zM594 403h3v22h-3zM599 398h3v27h-3zM605 396h3v29h-3zM610 393h3v32h-3zM615 405h3v20h-3z" fill="#00cccc"/>
<path d="M636 1h1v1h-1zM635 2h2v1h-2zM634 3h1v1h-1zM636 3h1v1h-1zM636 4h1v1h-1zM636 5h1v1h-1zM636 6h1v1h-1zM636 7h1v1h-1zM634 8h5v1h-5zM642 1h1v1h-1zM641 2h2v1h-2zM640 3h1v1h-1zM642 3h1v1h-1zM642 4h1v1h-1zM642 5h1v1h-1zM642 6h1v1h-1zM642 7h1v1h-1zM640 8h5v1h-5zM646 1h5v1h-5zM646 2h1v1h-1zM646 3h4v1h-4zM646 4h1v1h-1zM650 4h1v1h-1zM650 5h1v1h-1zM650 6h1v1h-1zM646 7h1v1h-1zM650 7h1v1h-1zM647 8h3v1h-3zM654 1h1v1h-1zM653 2h1v1h-1zM655 2h1v1h-1zM652 3h1v1h-1zM656 3h1v1h-1zM652 4h1v1h-1zM656 4h1v1h-1zM652 5h1v1h-1zM656 5h1v1h-1zM652 6h1v1h-1zM656 6h1v1h-1zM653 7h1v1h-1zM655 7h1v1h-1zM654 8h1v1h-1zM660 1h1v1h-1zM659 2h1v1h-1zM661 2h1v1h-1zM658 3h1v1h-1zM662 3h1v1h-1zM658 4h1v1h-1zM662 4h1v1h-1zM658 5h1v1h-1zM662 5h1v1h-1zM658 6h1v1h-1zM662 6h1v1h-1zM659 7h1v1h-1zM661 7h1v1h-1zM660 8h1v1h-1zM636 55h1v1h-1zM635 56h2v1h-2zM634 57h1v1h-1zM636 57h1v1h-1zM636 58h1v1h-1zM636 59h1v1h-1zM636 60h1v1h-1zM636 61h1v1h-1zM634 62h5v1h-5zM642 55h1v1h-1zM641 56h2v1h-2zM640 57h1v1h-1zM642 57h1v1h-1zM642 58h1v1h-1zM642 59h1v1h-1zM642 60h1v1h-1zM642 61h1v1h-1zM640 62h5v1h-5zM648 55h1v1h-1zM647 56h1v1h-1zM649 56h1v1h-1zM646 57h1v1h-1zM650 57h1v1h-1zM646 58h1v1h-1zM650 58h1v1h-1zM646 59h1v1h-1zM650 59h1v1h-1zM646 60h1v1h-1zM650 60h1v1h-1zM647 61h1v1h-1zM649 61h1v1h-1zM648 62h1v1h-1zM654 55h1v1h-1zM653 56h1v1h-1zM655 56h1v1h-1zM652 57h1v1h-1zM656 57h1v1h-1zM652 58h1v1h-1zM656 58h1v1h-1zM652 59h1v1h-1zM656 59h1v1h-1zM652 60h1v1h-1zM656 60h1v1h-1zM653 61h1v1h-1zM655 61h1v1h-1zM654 62h1v1h-1zM660 55h1v1h-1zM659 56h1v1h-1zM661 56h1v1h-1zM658 57h1v1h-1zM662 57h1v1h-1zM658 58h1v1h-1zM662 58h1v1h-1zM658 59h1v1h-1zM662 59h1v1h-1zM658 60h1v1h-1zM662 60h1v1h-1zM659 61h1v1h-1zM661 61h1v1h-1zM660 62h1v1h-1zM636 109h1v1h-1zM635 110h2v1h-2zM634 111h1v1h-1zM636 111h1v1h-1zM636 112h1v1h-1zM636 113h1v1h-1zM636 114h1v1h-1zM636 115h1v1h-1zM634 116h5v1h-5zM642 109h1v1h-1zM641 110h1v1h-1zM643 110h1v1h-1zM640 111h1v1h-1zM644 111h1v1h-1zM640 112h1v1h-1zM644 112h1v1h-1zM640 113h1v1h-1zM644 113h1v1h-1zM640 114h1v1h-1zM644 114h1v1h-1zM641 115h1v1h-1zM643 115h1v1h-1zM642 116h1v1h-1zM646 109h5v1h-5zM646 110h1v1h-1zM646 111h4v1h-4zM646 112h1v1h-1zM650 112h1v1h-1zM650 113h1v1h-1zM650 114h1v1h-1zM646 115h1v1h-1zM650 115h1v1h-1zM647 116h3v1h-3zM654 109h1v1h-1zM653 110h1v1h-1zM655 110h1v1h-1zM652 111h1v1h-1zM656 111h1v1h-1zM652 112h1v1h-1zM656 112h1v1h-1zM652 113h1v1h-1zM656 113h1v1h-1zM652 114h1v1h-1zM656 114h1v1h-1zM653 115h1v1h-1zM655 115h1v1h-1zM654 116h1v1h-1zM660 109h1v1h-1zM659 110h1v1h-1zM661 110h1v1h-1zM658 111h1v1h-1zM662 111h1v1h-1zM658 112h1v1h-1zM662 112h1v1h-1zM658 113h1v1h-1zM662 113h1v1h-1zM658 114h1v1h-1zM662 114h1v1h-1zM659 115h1v1h-1zM661 115h1v1h-1zM660 116h1v1h-1zM636 164h1v1h-1zM635 165h2v1h-2zM634 166h1v1h-1zM636 166h1v1h-1zM636 167h1v1h-1zM636 168h1v1h-1zM636 169h1v1h-1zM636 170h1v1h-1zM634 171h5v1h-5zM642 164h1v1h-1zM641 165h1v1h-1zM643 165h1v1h-1zM640 166h1v1h-1zM644 166h1v1h-1zM640 167h1v1h-1zM644 167h1v1h-1zM640 168h1v1h-1zM644 168h1v1h-1zM640 169h1v1h-1zM644 169h1v1h-1zM641 170h1v1h-1zM643 170h1v1h-1zM642 171h1v1h-1zM648 164h1v1h-1zM647 165h1v1h-1zM649 165h1v1h-1zM646 166h1v1h-1zM650 166h1v1h-1zM646 167h1v1h-1zM650 167h1v1h-1zM646 168h1v1h-1zM650 168h1v1h-1zM646 169h1v1h-1zM650 169h1v1h-1zM647 170h1v1h-1zM649 170h1v1h-1zM648 171h1v1h-1zM654 164h1v1h-1zM653 165h1v1h-1zM655 165h1v1h-1zM652 166h1v1h-1zM656 166h1v1h-1zM652 167h1v1h-1zM656 167h1v1h-1zM652 168h1v1h-1zM656 168h1v1h-1zM652 169h1v1h-1zM656 169h1v1h-1zM653 170h1v1h-1zM655 170h1v1h-1zM654 171h1v1h-1zM660 164h1v1h-1zM659 165h1v1h-1zM661 165h1v1h-1zM658 166h1v1h-1zM662 166h1v1h-1zM658 167h1v1h-1zM662 167h1v1h-1zM658 168h1v1h-1zM662 168h1v1h-1zM658 169h1v1h-1zM662 169h1v1h-1zM659 170h1v1h-1zM661 170h1v1h-1zM660 171h1v1h-1zM641 218h3v1h-3zM640 219h1v1h-1zM644 219h1v1h-1zM640 220h1v1h-1zM644 220h1v1h-1zM640 221h1v1h-1zM644 221h1v1h-1zM641 222h4v1h-4zM644 223h1v1h-1zM643 224h1v1h-1zM640 225h3v1h-3zM646 218h5v1h-5zM646 219h1v1h-1zM646 220h4v1h-4zM646 221h1v1h-1zM650 221h1v1h-1zM650 222h1v1h-1zM650 223h1v1h-1zM646 224h1v1h-1zM650 224h1v1h-1zM647 225h3v1h-3zM654 218h1v1h-1zM653 219h1v1h-1zM655 219h1v1h-1zM652 220h1v1h-1zM656 220h1v1h-1zM652 221h1v1h-1zM656 221h1v1h-1zM652 222h1v1h-1zM656 222h1v1h-1zM652 223h1v1h-1zM656 223h1v1h-1zM653 224h1v1h-1zM655 224h1v1h-1zM654 225h1v1h-1zM660 218h1v1h-1zM659 219h1v1h-1zM661 219h1v1h-1zM658 220h1v1h-1zM662 220h1v1h-1zM658 221h1v1h-1zM662 221h1v1h-1zM658 222h1v1h-1zM662 222h1v1h-1zM658 223h1v1h-1zM662 223h1v1h-1zM659 224h1v1h-1zM661 224h1v1h-1zM660 225h1v1h-1zM641 272h3v1h-3zM640 273h1v1h-1zM644 273h1v1h-1zM640 274h1v1h-1zM644 274h1v1h-1zM640 275h1v1h-1zM644 275h1v1h-1zM641 276h4v1h-4zM644 277h1v1h-1zM643 278h1v1h-1zM640 279h3v1h-3zM648 272h1v1h-1zM647 273h1v1h-1zM649 273h1v1h-1zM646 274h1v1h-1zM650 274h1v1h-1zM646 275h1v1h-1zM650 275h1v1h-1zM646 276h1v1h-1zM650 276h1v1h-1zM646 277h1v1h-1zM650 277h1v1h-1zM647 278h1v1h-1zM649 278h1v1h-1zM648 279h1v1h-1zM654 272h1v1h-1zM653 273h1v1h-1zM655 273h1v1h-1zM652 274h1v1h-1zM656 274h1v1h-1zM652 275h1v1h-1zM656 275h1v1h-1zM652 276h1v1h-1zM656 276h1v1h-1zM652 277h1v1h-1zM656 277h1v1h-1zM653 278h1v1h-1zM655 278h1v1h-1zM654 279h1v1h-1zM660 272h1v1h-1zM659 273h1v1h-1zM661 273h1v1h-1zM658 274h1v1h-1zM662 274h1v1h-1zM658 275h1v1h-1zM662 275h1v1h-1zM658 276h1v1h-1zM662 276h1v1h-1zM658 277h1v1h-1zM662 277h1v1h-1zM659 278h1v1h-1zM661 278h1v1h-1zM660 279h1v1h-1zM629 305h3v1h-3zM628 306h1v1h-1zM632 306h1v1h-1zM632 307h1v1h-1zM630 308h2v1h-2zM632 309h1v1h-1zM632 310h1v1h-1zM628 311h1v1h-1zM632 311h1v1h-1zM629 312h3v1h-3zM637 305h1v1h-1zM636 306h2v1h-2zM635 307h1v1h-1zM637 307h1v1h-1zM634 308h1v1h-1zM637 308h1v1h-1zM634 309h1v1h-1zM637 309h1v1h-1zM634 310h5v1h-5zM637 311h1v1h-1zM637 312h1v1h-1zM642 305h1v1h-1zM641 306h1v1h-1zM643 306h1v1h-1zM640 307h1v1h-1zM644 307h1v1h-1zM640 308h1v1h-1zM644 308h1v1h-1zM640 309h1v1h-1zM644 309h1v1h-1zM640 310h1v1h-1zM644 310h1v1h-1zM641 311h1v1h-1zM643 311h1v1h-1zM642 312h1v1h-1zM648 305h1v1h-1zM647 306h1v1h-1zM649 306h1v1h-1zM646 307h1v1h-1zM650 307h1v1h-1zM646 308h1v1h-1zM650 308h1v1h-1zM646 309h1v1h-1zM650 309h1v1h-1zM646 310h1v1h-1zM650 310h1v1h-1zM647 311h1v1h-1zM649 311h1v1h-1zM648 312h1v1h-1zM654 305h1v1h-1zM653 306h1v1h-1zM655 306h1v1h-1zM652 307h1v1h-1zM656 307h1v1h-1zM652 308h1v1h-1zM656 308h1v1h-1zM652 309h1v1h-1zM656 309h1v1h-1zM652 310h1v1h-1zM656 310h1v1h-1zM653 311h1v1h-1zM655 311h1v1h-1zM654 312h1v1h-1zM660 305h1v1h-1zM659 306h1v1h-1zM661 306h1v1h-1zM658 307h1v1h-1zM662 307h1v1h-1zM658 308h1v1h-1zM662 308h1v1h-1zM658 309h1v1h-1zM662 309h1v1h-1zM658 310h1v1h-1zM662 310h1v1h-1zM659 311h1v1h-1zM661 311h1v1h-1zM660 312h1v1h-1zM629 316h3v1h-3zM628 317h1v1h-1zM632 317h1v1h-1zM632 318h1v1h-1zM630 319h2v1h-2zM632 320h1v1h-1zM632 321h1v1h-1zM628 322h1v1h-1zM632 322h1v1h-1zM629 323h3v1h-3zM635 316h3v1h-3zM634 317h1v1h-1zM638 317h1v1h-1zM638 318h1v1h-1zM637 319h1v1h-1zM636 320h1v1h-1zM635 321h1v1h-1zM634 322h1v1h-1zM634 323h5v1h-5zM642 316h1v1h-1zM641 317h1v1h-1zM643 317h1v1h-1zM640 318h1v1h-1zM644 318h1v1h-1zM640 319h1v1h-1zM644 319h1v1h-1zM640 320h1v1h-1zM644 320h1v1h-1zM640 321h1v1h-1zM644 321h1v1h-1zM641 322h1v1h-1zM643 322h1v1h-1zM642 323h1v1h-1zM648 316h1v1h-1zM647 317h1v1h-1zM649 317h1v1h-1zM646 318h1v1h-1zM650 318h1v1h-1zM646 319h1v1h-1zM650 319h1v1h-1zM646 320h1v1h-1zM650 320h1v1h-1zM646 321h1v1h-1zM650 321h1v1h-1zM647 322h1v1h-1zM649 322h1v1h-1zM648 323h1v1h-1zM654 316h1v1h-1zM653 317h1v1h-1zM655 317h1v1h-1zM652 318h1v1h-1zM656 318h1v1h-1zM652 319h1v1h-1zM656 319h1v1h-1zM652 320h1v1h-1zM656 320h1v1h-1zM652 321h1v1h-1zM656 321h1v1h-1zM653 322h1v1h-1zM655 322h1v1h-1zM654 323h1v1h-1zM660 316h1v1h-1zM659 317h1v1h-1zM661 317h1v1h-1zM658 318h1v1h-1zM662 318h1v1h-1zM658 319h1v1h-1zM662 319h1v1h-1zM658 320h1v1h-1zM662 320h1v1h-1zM658 321h1v1h-1zM662 321h1v1h-1zM659 322h1v1h-1zM661 322h1v1h-1zM660 323h1v1h-1zM629 326h3v1h-3zM628 327h1v1h-1zM632 327h1v1h-1zM632 328h1v1h-1zM630 329h2v1h-2zM632 330h1v1h-1zM632 331h1v1h-1zM628 332h1v1h-1zM632 332h1v1h-1zM629 333h3v1h-3zM636 326h1v1h-1zM635 327h1v1h-1zM637 327h1v1h-1zM634 328h1v1h-1zM638 328h1v1h-1zM634 329h1v1h-1zM638 329h1v1h-1zM634 330h1v1h-1zM638 330h1v1h-1zM634 331h1v1h-1zM638 331h1v1h-1zM635 332h1v1h-1zM637 332h1v1h-1zM636 333h1v1h-1zM642 326h1v1h-1zM641 327h1v1h-1zM643 327h1v1h-1zM640 328h1v1h-1zM644 328h1v1h-1zM640 329h1v1h-1zM644 329h1v1h-1zM640 330h1v1h-1zM644 330h1v1h-1zM640 331h1v1h-1zM644 331h1v1h-1zM641 332h1v1h-1zM643 332h1v1h-1zM642 333h1v1h-1zM648 326h1v1h-1zM647 327h1v1h-1zM649 327h1v1h-1zM646 328h1v1h-1zM650 328h1v1h-1zM646 329h1v1h-1zM650 329h1v1h-1zM646 330h1v1h-1zM650 330h1v1h-1zM646 331h1v1h-1zM650 331h1v1h-1zM647 332h1v1h-1zM649 332h1v1h-1zM648 333h1v1h-1zM654 326h1v1h-1zM653 327h1v1h-1zM655 327h1v1h-1zM652 328h1v1h-1zM656 328h1v1h-1zM652 329h1v1h-1zM656 329h1v1h-1zM652 330h1v1h-1zM656 330h1v1h-1zM652 331h1v1h-1zM656 331h1v1h-1zM653 332h1v1h-1zM655 332h1v1h-1zM654 333h1v1h-1zM660 326h1v1h-1zM659 327h1v1h-1zM661 327h1v1h-1zM658 328h1v1h-1zM662 328h1v1h-1zM658 329h1v1h-1zM662 329h1v1h-1zM658 330h1v1h-1zM662 330h1v1h-1zM658 331h1v1h-1zM662 331h1v1h-1zM659 332h1v1h-1zM661 332h1v1h-1zM660 333h1v1h-1zM629 337h3v1h-3zM628 338h1v1h-1zM632 338h1v1h-1zM632 339h1v1h-1zM631 340h1v1h-1zM630 341h1v1h-1zM629 342h1v1h-1zM628 343h1v1h-1zM628 344h5v1h-5zM635 337h3v1h-3zM634 338h1v1h-1zM638 338h1v1h-1zM634 339h1v1h-1zM638 339h1v1h-1zM635 340h3v1h-3zM634 341h1v1h-1zM638 341h1v1h-1zM634 342h1v1h-1zM638 342h1v1h-1zM634 343h1v1h-1zM638 343h1v1h-1zM635 344h3v1h-3zM642 337h1v1h-1zM641 338h1v1h-1zM643 338h1v1h-1zM640 339h1v1h-1zM644 339h1v1h-1zM640 340h1v1h-1zM644 340h1v1h-1zM640 341h1v1h-1zM644 341h1v1h-1zM640 342h1v1h-1zM644 342h1v1h-1zM641 343h1v1h-1zM643 343h1v1h-1zM642 344h1v1h-1zM648 337h1v1h-1zM647 338h1v1h-1zM649 338h1v1h-1zM646 339h1v1h-1zM650 339h1v1h-1zM646 340h1v1h-1zM650 340h1v1h-1zM646 341h1v1h-1zM650 341h1v1h-1zM646 342h1v1h-1zM650 342h1v1h-1zM647 343h1v1h-1zM649 343h1v1h-1zM648 344h1v1h-1zM654 337h1v1h-1zM653 338h1v1h-1zM655 338h1v1h-1zM652 339h1v1h-1zM656 339h1v1h-1zM652 340h1v1h-1zM656 340h1v1h-1zM652 341h1v1h-1zM656 341h1v1h-1zM652 342h1v1h-1zM656 342h1v1h-1zM653 343h1v1h-1zM655 343h1v1h-1zM654 344h1v1h-1zM660 337h1v1h-1zM659 338h1v1h-1zM661 338h1v1h-1zM658 339h1v1h-1zM662 339h1v1h-1zM658 340h1v1h-1zM662 340h1v1h-1zM658 341h1v1h-1zM662 341h1v1h-1zM658 342h1v1h-1zM662 342h1v1h-1zM659 343h1v1h-1zM661 343h1v1h-1zM660 344h1v1h-1zM629 348h3v1h-3zM628 349h1v1h-1zM632 349h1v1h-1zM632 350h1v1h-1zM631 351h1v1h-1zM630 352h1v1h-1zM629 353h1v1h-1zM628 354h1v1h-1zM628 355h5v1h-5zM636 348h2v1h-2zM635 349h1v1h-1zM634 350h1v1h-1zM634 351h4v1h-4zM634 352h1v1h-1zM638 352h1v1h-1zM634 353h1v1h-1zM638 353h1v1h-1zM634 354h1v1h-1zM638 354h1v1h-1zM635 355h3v1h-3zM642 348h1v1h-1zM641 349h1v1h-1zM643 349h1v1h-1zM640 350h1v1h-1zM644 350h1v1h-1zM640 351h1v1h-1zM644 351h1v1h-1zM640 352h1v1h-1zM644 352h1v1h-1zM640 353h1v1h-1zM644 353h1v1h-1zM641 354h1v1h-1zM643 354h1v1h-1zM642 355h1v1h-1zM648 348h1v1h-1zM647 349h1v1h-1zM649 349h1v1h-1zM646 350h1v1h-1zM650 350h1v1h-1zM646 351h1v1h-1zM650 351h1v1h-1zM646 352h1v1h-1zM650 352h1v1h-1zM646 353h1v1h-1zM650 353h1v1h-1zM647 354h1v1h-1zM649 354h1v1h-1zM648 355h1v1h-1zM654 348h1v1h-1zM653 349h1v1h-1zM655 349h1v1h-1zM652 350h1v1h-1zM656 350h1v1h-1zM652 351h1v1h-1zM656 351h1v1h-1zM652 352h1v1h-1zM656 352h1v1h-1zM652 353h1v1h-1zM656 353h1v1h-1zM653 354h1v1h-1zM655 354h1v1h-1zM654 355h1v1h-1zM660 348h1v1h-1zM659 349h1v1h-1zM661 349h1v1h-1zM658 350h1v1h-1zM662 350h1v1h-1zM658 351h1v1h-1zM662 351h1v1h-1zM658 352h1v1h-1zM662 352h1v1h-1zM658 353h1v1h-1zM662 353h1v1h-1zM659 354h1v1h-1zM661 354h1v1h-1zM660 355h1v1h-1zM629 358h3v1h-3zM628 359h1v1h-1zM632 359h1v1h-1zM632 360h1v1h-1zM631 361h1v1h-1zM630 362h1v1h-1zM629 363h1v1h-1zM628 364h1v1h-1zM628 365h5v1h-5zM637 358h1v1h-1zM636 359h2v1h-2zM635 360h1v1h-1zM637 360h1v1h-1zM634 361h1v1h-1zM637 361h1v1h-1zM634 362h1v1h-1zM637 362h1v1h-1zM634 363h5v1h-5zM637 364h1v1h-1zM637 365h1v1h-1zM642 358h1v1h-1zM641 359h1v1h-1zM643 359h1v1h-1zM640 360h1v1h-1zM644 360h1v1h-1zM640 361h1v1h-1zM644 361h1v1h-1zM640 362h1v1h-1zM644 362h1v1h-1zM640 363h1v1h-1zM644 363h1v1h-1zM641 364h1v1h-1zM643 364h1v1h-1zM642 365h1v1h-1zM648 358h1v1h-1zM647 359h1v1h-1zM649 359h1v1h-1zM646 360h1v1h-1zM650 360h1v1h-1zM646 361h1v1h-1zM650 361h1v1h-1zM646 362h1v1h-1zM650 362h1v1h-1zM646 363h1v1h-1zM650 363h1v1h-1zM647 364h1v1h-1zM649 364h1v1h-1zM648 365h1v1h-1zM654 358h1v1h-1zM653 359h1v1h-1zM655 359h1v1h-1zM652 360h1v1h-1zM656 360h1v1h-1zM652 361h1v1h-1zM656 361h1v1h-1zM652 362h1v1h-1zM656 362h1v1h-1zM652 363h1v1h-1zM656 363h1v1h-1zM653 364h1v1h-1zM655 364h1v1h-1zM654 365h1v1h-1zM660 358h1v1h-1zM659 359h1v1h-1zM661 359h1v1h-1zM658 360h1v1h-1zM662 360h1v1h-1zM658 361h1v1h-1zM662 361h1v1h-1zM658 362h1v1h-1zM662 362h1v1h-1zM658 363h1v1h-1zM662 363h1v1h-1zM659 364h1v1h-1zM661 364h1v1h-1zM660 365h1v1h-1zM629 369h3v1h-3zM628 370h1v1h-1zM632 370h1v1h-1zM632 371h1v1h-1zM631 372h1v1h-1zM630 373h1v1h-1zM629 374h1v1h-1zM628 375h1v1h-1zM628 376h5v1h-5zM635 369h3v1h-3zM634 370h1v1h-1zM638 370h1v1h-1zM638 371h1v1h-1zM637 372h1v1h-1zM636 373h1v1h-1zM635 374h1v1h-1zM634 375h1v1h-1zM634 376h5v1h-5zM642 369h1v1h-1zM641 370h1v1h-1zM643 370h1v1h-1zM640 371h1v1h-1zM644 371h1v1h-1zM640 372h1v1h-1zM644 372h1v1h-1zM640 373h1v1h-1zM644 373h1v1h-1zM640 374h1v1h-1zM644 374h1v1h-1zM641 375h1v1h-1zM643 375h1v1h-1zM642 376h1v1h-1zM648 369h1v1h-1zM647 370h1v1h-1zM649 370h1v1h-1zM646 371h1v1h-1zM650 371h1v1h-1zM646 372h1v1h-1zM650 372h1v1h-1zM646 373h1v1h-1zM650 373h1v1h-1zM646 374h1v1h-1zM650 374h1v1h-1zM647 375h1v1h-1zM649 375h1v1h-1zM648 376h1v1h-1zM654 369h1v1h-1zM653 370h1v1h-1zM655 370h1v1h-1zM652 371h1v1h-1zM656 371h1v1h-1zM652 372h1v1h-1zM656 372h1v1h-1zM652 373h1v1h-1zM656 373h1v1h-1zM652 374h1v1h-1zM656 374h1v1h-1zM653 375h1v1h-1zM655 375h1v1h-1zM654 376h1v1h-1zM660 369h1v1h-1zM659 370h1v1h-1zM661 370h1v1h-1zM658 371h1v1h-1zM662 371h1v1h-1zM658 372h1v1h-1zM662 372h1v1h-1zM658 373h1v1h-1zM662 373h1v1h-1zM658 374h1v1h-1zM662 374h1v1h-1zM659 375h1v1h-1zM661 375h1v1h-1zM660 376h1v1h-1zM629 379h3v1h-3zM628 380h1v1h-1zM632 380h1v1h-1zM632 381h1v1h-1zM631 382h1v1h-1zM630 383h1v1h-1zM629 384h1v1h-1zM628 385h1v1h-1zM628 386h5v1h-5zM636 379h1v1h-1zM635 380h1v1h-1zM637 380h1v1h-1zM634 381h1v1h-1zM638 381h1v1h-1zM634 382h1v1h-1zM638 382h1v1h-1zM634 383h1v1h-1zM638 383h1v1h-1zM634 384h1v1h-1zM638 384h1v1h-1zM635 385h1v1h-1zM637 385h1v1h-1zM636 386h1v1h-1zM642 379h1v1h-1zM641 380h1v1h-1zM643 380h1v1h-1zM640 381h1v1h-1zM644 381h1v1h-1zM640 382h1v1h-1zM644 382h1v1h-1zM640 383h1v1h-1zM644 383h1v1h-1zM640 384h1v1h-1zM644 384h1v1h-1zM641 385h1v1h-1zM643 385h1v1h-1zM642 386h1v1h-1zM648 379h1v1h-1zM647 380h1v1h-1zM649 380h1v1h-1zM646 381h1v1h-1zM650 381h1v1h-1zM646 382h1v1h-1zM650 382h1v1h-1zM646 383h1v1h-1zM650 383h1v1h-1zM646 384h1v1h-1zM650 384h1v1h-1zM647 385h1v1h-1zM649 385h1v1h-1zM648 386h1v1h-1zM654 379h1v1h-1zM653 380h1v1h-1zM655 380h1v1h-1zM652 381h1v1h-1zM656 381h1v1h-1zM652 382h1v1h-1zM656 382h1v1h-1zM652 383h1v1h-1zM656 383h1v1h-1zM652 384h1v1h-1zM656 384h1v1h-1zM653 385h1v1h-1zM655 385h1v1h-1zM654 386h1v1h-1zM660 379h1v1h-1zM659 380h1v1h-1zM661 380h1v1h-1zM658 381h1v1h-1zM662 381h1v1h-1zM658 382h1v1h-1zM662 382h1v1h-1zM658 383h1v1h-1zM662 383h1v1h-1zM658 384h1v1h-1zM662 384h1v1h-1zM659 385h1v1h-1zM661 385h1v1h-1zM660 386h1v1h-1zM630 390h1v1h-1zM629 391h2v1h-2zM628 392h1v1h-1zM630 392h1v1h-1zM630 393h1v1h-1zM630 394h1v1h-1zM630 395h1v1h-1zM630 396h1v1h-1zM628 397h5v1h-5zM635 390h3v1h-3zM634 391h1v1h-1zM638 391h1v1h-1zM634 392h1v1h-1zM638 392h1v1h-1zM635 393h3v1h-3zM634 394h1v1h-1zM638 394h1v1h-1zM634 395h1v1h-1zM638 395h1v1h-1zM634 396h1v1h-1zM638 396h1v1h-1zM635 397h3v1h-3zM642 390h1v1h-1zM641 391h1v1h-1zM643 391h1v1h-1zM640 392h1v1h-1zM644 392h1v1h-1zM640 393h1v1h-1zM644 393h1v1h-1zM640 394h1v1h-1zM644 394h1v1h-1zM640 395h1v1h-1zM644 395h1v1h-1zM641 396h1v1h-1zM643 396h1v1h-1zM642 397h1v1h-1zM648 390h1v1h-1zM647 391h1v1h-1zM649 391h1v1h-1zM646 392h1v1h-1zM650 392h1v1h-1zM646 393h1v1h-1zM650 393h1v1h-1zM646 394h1v1h-1zM650 394h1v1h-1zM646 395h1v1h-1zM650 395h1v1h-1zM647 396h1v1h-1zM649 396h1v1h-1zM648 397h1v1h-1zM654 390h1v1h-1zM653 391h1v1h-1zM655 391h1v1h-1zM652 392h1v1h-1zM656 392h1v1h-1zM652 393h1v1h-1zM656 393h1v1h-1zM652 394h1v1h-1zM656 394h1v1h-1zM652 395h1v1h-1zM656 395h1v1h-1zM653 396h1v1h-1zM655 396h1v1h-1zM654 397h1v1h-1zM660 390h1v1h-1zM659 391h1v1h-1zM661 391h1v1h-1zM658 392h1v1h-1zM662 392h1v1h-1zM658 393h1v1h-1zM662 393h1v1h-1zM658 394h1v1h-1zM662 394h1v1h-1zM658 395h1v1h-1zM662 395h1v1h-1zM659 396h1v1h-1zM661 396h1v1h-1zM660 397h1v1h-1zM630 401h1v1h-1zM629 402h2v1h-2zM628 403h1v1h-1zM630 403h1v1h-1zM630 404h1v1h-1zM630 405h1v1h-1zM630 406h1v1h-1zM630 407h1v1h-1zM628 408h5v1h-5zM636 401h2v1h-2zM635 402h1v1h-1zM634 403h1v1h-1zM634 404h4v1h-4zM634 405h1v1h-1zM638 405h1v1h-1zM634 406h1v1h-1zM638 406h1v1h-1zM634 407h1v1h-1zM638 407h1v1h-1zM635 408h3v1h-3zM642 401h1v1h-1zM641 402h1v1h-1zM643 402h1v1h-1zM640 403h1v1h-1zM644 403h1v1h-1zM640 404h1v1h-1zM644 404h1v1h-1zM640 405h1v1h-1zM644 405h1v1h-1zM640 406h1v1h-1zM644 406h1v1h-1zM641 407h1v1h-1zM643 407h1v1h-1zM642 408h1v1h-1zM648 401h1v1h-1zM647 402h1v1h-1zM649 402h1v1h-1zM646 403h1v1h-1zM650 403h1v1h-1zM646 404h1v1h-1zM650 404h1v1h-1zM646 405h1v1h-1zM650 405h1v1h-1zM646 406h1v1h-1zM650 406h1v1h-1zM647 407h1v1h-1zM649 407h1v1h-1zM648 408h1v1h-1zM654 401h1v1h-1zM653 402h1v1h-1zM655 402h1v1h-1zM652 403h1v1h-1zM656 403h1v1h-1zM652 404h1v1h-1zM656 404h1v1h-1zM652 405h1v1h-1zM656 405h1v1h-1zM652 406h1v1h-1zM656 406h1v1h-1zM653 407h1v1h-1zM655 407h1v1h-1zM654 408h1v1h-1zM660 401h1v1h-1zM659 402h1v1h-1zM661 402h1v1h-1zM658 403h1v1h-1zM662 403h1v1h-1zM658 404h1v1h-1zM662 404h1v1h-1zM658 405h1v1h-1zM662 405h1v1h-1zM658 406h1v1h-1zM662 406h1v1h-1zM659 407h1v1h-1zM661 407h1v1h-1zM660 408h1v1h-1zM630 411h1v1h-1zM629 412h2v1h-2zM628 413h1v1h-1zM630 413h1v1h-1zM630 414h1v1h-1zM630 415h1v1h-1zM630 416h1v1h-1zM630 417h1v1h-1zM628 418h5v1h-5zM637 411h1v1h-1zM636 412h2v1h-2zM635 413h1v1h-1zM637 413h1v1h-1zM634 414h1v1h-1zM637 414h1v1h-1zM634 415h1v1h-1zM637 415h1v1h-1zM634 416h5v1h-5zM637 417h1v1h-1zM637 418h1v1h-1zM642 411h1v1h-1zM641 412h1v1h-1zM643 412h1v1h-1zM640 413h1v1h-1zM644 413h1v1h-1zM640 414h1v1h-1zM644 414h1v1h-1zM640 415h1v1h-1zM644 415h1v1h-1zM640 416h1v1h-1zM644 416h1v1h-1zM641 417h1v1h-1zM643 417h1v1h-1zM642 418h1v1h-1zM648 411h1v1h-1zM647 412h1v1h-1zM649 412h1v1h-1zM646 413h1v1h-1zM650 413h1v1h-1zM646 414h1v1h-1zM650 414h1v1h-1zM646 415h1v1h-1zM650 415h1v1h-1zM646 416h1v1h-1zM650 416h1v1h-1zM647 417h1v1h-1zM649 417h1v1h-1zM648 418h1v1h-1zM654 411h1v1h-1zM653 412h1v1h-1zM655 412h1v1h-1zM652 413h1v1h-1zM656 413h1v1h-1zM652 414h1v1h-1zM656 414h1v1h-1zM652 415h1v1h-1zM656 415h1v1h-1zM652 416h1v1h-1zM656 416h1v1h-1zM653 417h1v1h-1zM655 417h1v1h-1zM654 418h1v1h-1zM660 411h1v1h-1zM659 412h1v1h-1zM661 412h1v1h-1zM658 413h1v1h-1zM662 413h1v1h-1zM658 414h1v1h-1zM662 414h1v1h-1zM658 415h1v1h-1zM662 415h1v1h-1zM658 416h1v1h-1zM662 416h1v1h-1zM659 417h1v1h-1zM661 417h1v1h-1zM660 418h1v1h-1zM630 422h1v1h-1zM629 423h2v1h-2zM628 424h1v1h-1zM630 424h1v1h-1zM630 425h1v1h-1zM630 426h1v1h-1zM630 427h1v1h-1zM630 428h1v1h-1zM628 429h5v1h-5zM635 422h3v1h-3zM634 423h1v1h-1zM638 423h1v1h-1zM638 424h1v1h-1zM637 425h1v1h-1zM636 426h1v1h-1zM635 427h1v1h-1zM634 428h1v1h-1zM634 429h5v1h-5zM642 422h1v1h-1zM641 423h1v1h-1zM643 423h1v1h-1zM640 424h1v1h-1zM644 424h1v1h-1zM640 425h1v1h-1zM644 425h1v1h-1zM640 426h1v1h-1zM644 426h1v1h-1zM640 427h1v1h-1zM644 427h1v1h-1zM641 428h1v1h-1zM643 428h1v1h-1zM642 429h1v1h-1zM648 422h1v1h-1zM647 423h1v1h-1zM649 423h1v1h-1zM646 424h1v1h-1zM650 424h1v1h-1zM646 425h1v1h-1zM650 425h1v1h-1zM646 426h1v1h-1zM650 426h1v1h-1zM646 427h1v1h-1zM650 427h1v1h-1zM647 428h1v1h-1zM649 428h1v1h-1zM648 429h1v1h-1zM654 422h1v1h-1zM653 423h1v1h-1zM655 423h1v1h-1zM652 424h1v1h-1zM656 424h1v1h-1zM652 425h1v1h-1zM656 425h1v1h-1zM652 426h1v1h-1zM656 426h1v1h-1zM652 427h1v1h-1zM656 427h1v1h-1zM653 428h1v1h-1zM655 428h1v1h-1zM654 429h1v1h-1zM660 422h1v1h-1zM659 423h1v1h-1zM661 423h1v1h-1zM658 424h1v1h-1zM662 424h1v1h-1zM658 425h1v1h-1zM662 425h1v1h-1zM658 426h1v1h-1zM662 426h1v1h-1zM658 427h1v1h-1zM662 427h1v1h-1zM659 428h1v1h-1zM661 428h1v1h-1zM660 429h1v1h-1zM28 434h1v1h-1zM27 435h2v1h-2zM26 436h1v1h-1zM28 436h1v1h-1zM28 437h1v1h-1zM28 438h1v1h-1zM28 439h1v1h-1zM28 440h1v1h-1zM26 441h5v1h-5zM34 434h1v1h-1zM33 435h2v1h-2zM32 436h1v1h-1zM34 436h1v1h-1zM34 437h1v1h-1zM34 438h1v1h-1zM34 439h1v1h-1zM34 440h1v1h-1zM32 441h5v1h-5zM42 434h1v1h-1zM42 435h1v1h-1zM41 436h1v1h-1zM41 437h1v1h-1zM40 438h1v1h-1zM39 439h1v1h-1zM39 440h1v1h-1zM38 441h1v1h-1zM38 442h1v1h-1zM44 434h5v1h-5zM48 435h1v1h-1zM47 436h1v1h-1zM47 437h1v1h-1zM46 438h1v1h-1zM46 439h1v1h-1zM45 440h1v1h-1zM45 441h1v1h-1zM98 434h1v1h-1zM97 435h2v1h-2zM96 436h1v1h-1zM98 436h1v1h-1zM98 437h1v1h-1zM98 438h1v1h-1zM98 439h1v1h-1zM98 440h1v1h-1zM96 441h5v1h-5zM104 434h1v1h-1zM103 435h2v1h-2zM102 436h1v1h-1zM104 436h1v1h-1zM104 437h1v1h-1zM104 438h1v1h-1zM104 439h1v1h-1zM104 440h1v1h-1zM102 441h5v1h-5zM112 434h1v1h-1zM112 435h1v1h-1zM111 436h1v1h-1zM111 437h1v1h-1zM110 438h1v1h-1zM109 439h1v1h-1zM109 440h1v1h-1zM108 441h1v1h-1zM108 442h1v1h-1zM115 434h3v1h-3zM114 435h1v1h-1zM118 435h1v1h-1zM118 436h1v1h-1zM117 437h1v1h-1zM116 438h1v1h-1zM115 439h1v1h-1zM114 440h1v1h-1zM114 441h5v1h-5zM122 434h1v1h-1zM121 435h2v1h-2zM120 436h1v1h-1zM122 436h1v1h-1zM122 437h1v1h-1zM122 438h1v1h-1zM122 439h1v1h-1zM122 440h1v1h-1zM120 441h5v1h-5zM174 434h1v1h-1zM173 435h2v1h-2zM172 436h1v1h-1zM174 436h1v1h-1zM174 437h1v1h-1zM174 438h1v1h-1zM174 439h1v1h-1zM174 440h1v1h-1zM172 441h5v1h-5zM179 434h3v1h-3zM178 435h1v1h-1zM182 435h1v1h-1zM182 436h1v1h-1zM181 437h1v1h-1zM180 438h1v1h-1zM179 439h1v1h-1zM178 440h1v1h-1zM178 441h5v1h-5zM188 434h1v1h-1zM188 435h1v1h-1zM187 436h1v1h-1zM187 437h1v1h-1zM186 438h1v1h-1zM185 439h1v1h-1zM185 440h1v1h-1zM184 441h1v1h-1zM184 442h1v1h-1zM190 434h5v1h-5zM190 435h1v1h-1zM190 436h4v1h-4zM190 437h1v1h-1zM194 437h1v1h-1zM194 438h1v1h-1zM194 439h1v1h-1zM190 440h1v1h-1zM194 440h1v1h-1zM191 441h3v1h-3zM244 434h1v1h-1zM243 435h2v1h-2zM242 436h1v1h-1zM244 436h1v1h-1zM244 437h1v1h-1zM244 438h1v1h-1zM244 439h1v1h-1zM244 440h1v1h-1zM242 441h5v1h-5zM249 434h3v1h-3zM248 435h1v1h-1zM252 435h1v1h-1zM252 436h1v1h-1zM251 437h1v1h-1zM250 438h1v1h-1zM249 439h1v1h-1zM248 440h1v1h-1zM248 441h5v1h-5zM258 434h1v1h-1zM258 435h1v1h-1zM257 436h1v1h-1zM257 437h1v1h-1zM256 438h1v1h-1zM255 439h1v1h-1zM255 440h1v1h-1zM254 441h1v1h-1zM254 442h1v1h-1zM262 434h1v1h-1zM261 435h2v1h-2zM260 436h1v1h-1zM262 436h1v1h-1zM262 437h1v1h-1zM262 438h1v1h-1zM262 439h1v1h-1zM262 440h1v1h-1zM260 441h5v1h-5zM267 434h3v1h-3zM266 435h1v1h-1zM270 435h1v1h-1zM266 436h1v1h-1zM270 436h1v1h-1zM266 437h1v1h-1zM270 437h1v1h-1zM267 438h4v1h-4zM270 439h1v1h-1zM269 440h1v1h-1zM266 441h3v1h-3zM323 434h1v1h-1zM322 435h2v1h-2zM321 436h1v1h-1zM323 436h1v1h-1zM323 437h1v1h-1zM323 438h1v1h-1zM323 439h1v1h-1zM323 440h1v1h-1zM321 441h5v1h-5zM331 434h1v1h-1zM331 435h1v1h-1zM330 436h1v1h-1zM330 437h1v1h-1zM329 438h1v1h-1zM328 439h1v1h-1zM328 440h1v1h-1zM327 441h1v1h-1zM327 442h1v1h-1zM334 434h3v1h-3zM333 435h1v1h-1zM337 435h1v1h-1zM337 436h1v1h-1zM336 437h1v1h-1zM335 438h1v1h-1zM334 439h1v1h-1zM333 440h1v1h-1zM333 441h5v1h-5zM393 434h1v1h-1zM392 435h2v1h-2zM391 436h1v1h-1zM393 436h1v1h-1zM393 437h1v1h-1zM393 438h1v1h-1zM393 439h1v1h-1zM393 440h1v1h-1zM391 441h5v1h-5zM401 434h1v1h-1zM401 435h1v1h-1zM400 436h1v1h-1zM400 437h1v1h-1zM399 438h1v1h-1zM398 439h1v1h-1zM398 440h1v1h-1zM397 441h1v1h-1zM397 442h1v1h-1zM405 434h1v1h-1zM404 435h2v1h-2zM403 436h1v1h-1zM405 436h1v1h-1zM405 437h1v1h-1zM405 438h1v1h-1zM405 439h1v1h-1zM405 440h1v1h-1zM403 441h5v1h-5zM411 434h2v1h-2zM410 435h1v1h-1zM409 436h1v1h-1zM409 437h4v1h-4zM409 438h1v1h-1zM413 438h1v1h-1zM409 439h1v1h-1zM413 439h1v1h-1zM409 440h1v1h-1zM413 440h1v1h-1zM410 441h3v1h-3zM465 434h1v1h-1zM464 435h2v1h-2zM463 436h1v1h-1zM465 436h1v1h-1zM465 437h1v1h-1zM465 438h1v1h-1zM465 439h1v1h-1zM465 440h1v1h-1zM463 441h5v1h-5zM473 434h1v1h-1zM473 435h1v1h-1zM472 436h1v1h-1zM472 437h1v1h-1zM471 438h1v1h-1zM470 439h1v1h-1zM470 440h1v1h-1zM469 441h1v1h-1zM469 442h1v1h-1zM476 434h3v1h-3zM475 435h1v1h-1zM479 435h1v1h-1zM479 436h1v1h-1zM477 437h2v1h-2zM479 438h1v1h-1zM479 439h1v1h-1zM475 440h1v1h-1zM479 440h1v1h-1zM476 441h3v1h-3zM483 434h1v1h-1zM482 435h1v1h-1zM484 435h1v1h-1zM481 436h1v1h-1zM485 436h1v1h-1zM481 437h1v1h-1zM485 437h1v1h-1zM481 438h1v1h-1zM485 438h1v1h-1zM481 439h1v1h-1zM485 439h1v1h-1zM482 440h1v1h-1zM484 440h1v1h-1zM483 441h1v1h-1zM537 434h3v1h-3zM536 435h1v1h-1zM540 435h1v1h-1zM540 436h1v1h-1zM539 437h1v1h-1zM538 438h1v1h-1zM537 439h1v1h-1zM536 440h1v1h-1zM536 441h5v1h-5zM546 434h1v1h-1zM546 435h1v1h-1zM545 436h1v1h-1zM545 437h1v1h-1zM544 438h1v1h-1zM543 439h1v1h-1zM543 440h1v1h-1zM542 441h1v1h-1zM542 442h1v1h-1zM550 434h1v1h-1zM549 435h2v1h-2zM548 436h1v1h-1zM550 436h1v1h-1zM550 437h1v1h-1zM550 438h1v1h-1zM550 439h1v1h-1zM550 440h1v1h-1zM548 441h5v1h-5zM555 434h3v1h-3zM554 435h1v1h-1zM558 435h1v1h-1zM558 436h1v1h-1zM556 437h2v1h-2zM558 438h1v1h-1zM558 439h1v1h-1zM554 440h1v1h-1zM558 440h1v1h-1zM555 441h3v1h-3z" fill="#555555"/>
</g>
</svg>
</body></html>
